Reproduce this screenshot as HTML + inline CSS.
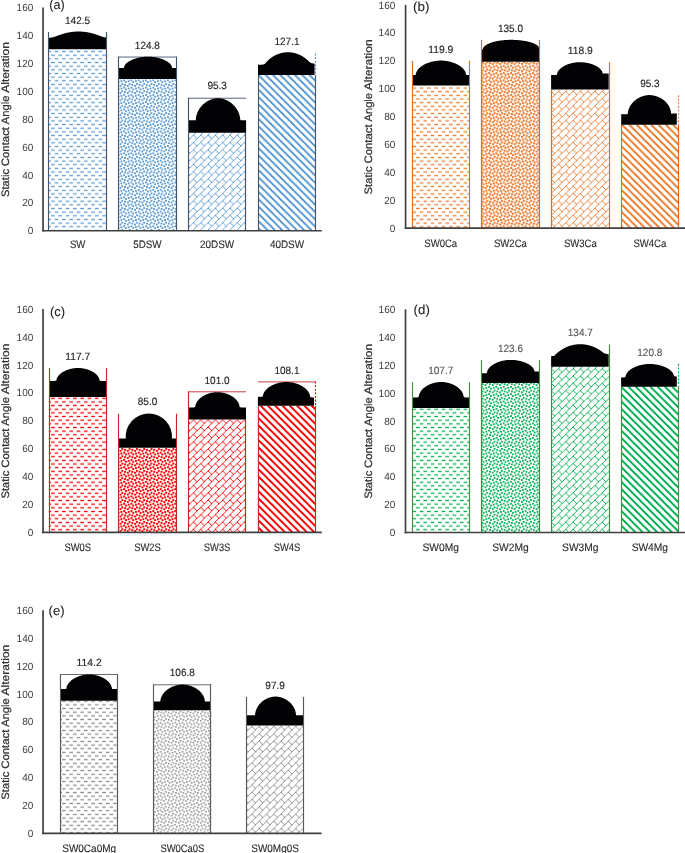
<!DOCTYPE html>
<html><head><meta charset="utf-8"><style>
html,body{margin:0;padding:0;background:#fff;}
svg{display:block;will-change:transform;}
text{font-family:"Liberation Sans", sans-serif;text-rendering:geometricPrecision;} .b{stroke:currentColor;stroke-width:0.2px;} .l{stroke:currentColor;stroke-width:0.08px;} .v{stroke:currentColor;stroke-width:0.12px;}
</style></head><body>
<svg width="685" height="853" viewBox="0 0 685 853">
<defs><pattern id="pa0" patternUnits="userSpaceOnUse" width="8" height="8" patternTransform="scale(0.9125)"><g fill="#5B9BD5"><rect x="4" y="-0.2" width="4" height="1.4"/><rect x="0" y="3.8" width="4" height="1.4"/><rect x="4" y="7.8" width="4" height="1.4"/></g></pattern><pattern id="pa1" patternUnits="userSpaceOnUse" width="8" height="8" patternTransform="scale(0.9125)"><g fill="#5B9BD5"><rect x="7" y="7" width="2.0" height="2.0"/><rect x="7" y="-1" width="2.0" height="2.0"/><rect x="-1" y="7" width="2.0" height="2.0"/><rect x="-1" y="-1" width="2.0" height="2.0"/><rect x="1" y="1" width="2.0" height="2.0"/><rect x="4" y="0" width="2.0" height="2.0"/><rect x="5" y="3" width="2.0" height="2.0"/><rect x="0" y="4" width="2.0" height="2.0"/><rect x="3" y="5" width="2.0" height="2.0"/></g></pattern><pattern id="pa2" patternUnits="userSpaceOnUse" width="8" height="8" patternTransform="scale(0.9125)"><g fill="#5B9BD5"><rect x="7" y="0" width="1" height="1"/><rect x="6" y="1" width="1" height="1"/><rect x="5" y="2" width="1" height="1"/><rect x="4" y="3" width="1" height="1"/><rect x="3" y="4" width="2" height="1"/><rect x="2" y="5" width="1" height="1"/><rect x="5" y="5" width="1" height="1"/><rect x="1" y="6" width="1" height="1"/><rect x="6" y="6" width="1" height="1"/><rect x="0" y="7" width="1" height="1"/><rect x="7" y="7" width="1" height="1"/></g></pattern><pattern id="pa3" patternUnits="userSpaceOnUse" width="8" height="8" patternTransform="scale(0.9125)"><g fill="#5B9BD5"><rect x="0" y="0" width="3" height="1"/><rect x="1" y="1" width="3" height="1"/><rect x="2" y="2" width="3" height="1"/><rect x="3" y="3" width="3" height="1"/><rect x="4" y="4" width="3" height="1"/><rect x="5" y="5" width="3" height="1"/><rect x="0" y="6" width="1" height="1"/><rect x="6" y="6" width="2" height="1"/><rect x="0" y="7" width="2" height="1"/><rect x="7" y="7" width="1" height="1"/></g></pattern><pattern id="pb0" patternUnits="userSpaceOnUse" width="8" height="8" patternTransform="scale(0.9125)"><g fill="#ED7D31"><rect x="4" y="-0.2" width="4" height="1.4"/><rect x="0" y="3.8" width="4" height="1.4"/><rect x="4" y="7.8" width="4" height="1.4"/></g></pattern><pattern id="pb1" patternUnits="userSpaceOnUse" width="8" height="8" patternTransform="scale(0.9125)"><g fill="#ED7D31"><rect x="7" y="7" width="2.2" height="2.2"/><rect x="7" y="-1" width="2.2" height="2.2"/><rect x="-1" y="7" width="2.2" height="2.2"/><rect x="-1" y="-1" width="2.2" height="2.2"/><rect x="1" y="1" width="2.2" height="2.2"/><rect x="4" y="0" width="2.2" height="2.2"/><rect x="5" y="3" width="2.2" height="2.2"/><rect x="0" y="4" width="2.2" height="2.2"/><rect x="3" y="5" width="2.2" height="2.2"/></g></pattern><pattern id="pb2" patternUnits="userSpaceOnUse" width="8" height="8" patternTransform="scale(0.9125)"><g fill="#ED7D31"><rect x="7" y="0" width="1" height="1"/><rect x="6" y="1" width="1" height="1"/><rect x="5" y="2" width="1" height="1"/><rect x="4" y="3" width="1" height="1"/><rect x="3" y="4" width="2" height="1"/><rect x="2" y="5" width="1" height="1"/><rect x="5" y="5" width="1" height="1"/><rect x="1" y="6" width="1" height="1"/><rect x="6" y="6" width="1" height="1"/><rect x="0" y="7" width="1" height="1"/><rect x="7" y="7" width="1" height="1"/></g></pattern><pattern id="pb3" patternUnits="userSpaceOnUse" width="8" height="8" patternTransform="scale(0.9125)"><g fill="#ED7D31"><rect x="0" y="0" width="3" height="1"/><rect x="1" y="1" width="3" height="1"/><rect x="2" y="2" width="3" height="1"/><rect x="3" y="3" width="3" height="1"/><rect x="4" y="4" width="3" height="1"/><rect x="5" y="5" width="3" height="1"/><rect x="0" y="6" width="1" height="1"/><rect x="6" y="6" width="2" height="1"/><rect x="0" y="7" width="2" height="1"/><rect x="7" y="7" width="1" height="1"/></g></pattern><pattern id="pc0" patternUnits="userSpaceOnUse" width="8" height="8" patternTransform="scale(0.9125)"><g fill="#FF0000"><rect x="4" y="-0.2" width="4" height="1.4"/><rect x="0" y="3.8" width="4" height="1.4"/><rect x="4" y="7.8" width="4" height="1.4"/></g></pattern><pattern id="pc1" patternUnits="userSpaceOnUse" width="8" height="8" patternTransform="scale(0.9125)"><g fill="#FF0000"><rect x="7" y="7" width="2.15" height="2.15"/><rect x="7" y="-1" width="2.15" height="2.15"/><rect x="-1" y="7" width="2.15" height="2.15"/><rect x="-1" y="-1" width="2.15" height="2.15"/><rect x="1" y="1" width="2.15" height="2.15"/><rect x="4" y="0" width="2.15" height="2.15"/><rect x="5" y="3" width="2.15" height="2.15"/><rect x="0" y="4" width="2.15" height="2.15"/><rect x="3" y="5" width="2.15" height="2.15"/></g></pattern><pattern id="pc2" patternUnits="userSpaceOnUse" width="8" height="8" patternTransform="scale(0.9125)"><g fill="#FF0000"><rect x="7" y="0" width="1" height="1"/><rect x="6" y="1" width="1" height="1"/><rect x="5" y="2" width="1" height="1"/><rect x="4" y="3" width="1" height="1"/><rect x="3" y="4" width="2" height="1"/><rect x="2" y="5" width="1" height="1"/><rect x="5" y="5" width="1" height="1"/><rect x="1" y="6" width="1" height="1"/><rect x="6" y="6" width="1" height="1"/><rect x="0" y="7" width="1" height="1"/><rect x="7" y="7" width="1" height="1"/></g></pattern><pattern id="pc3" patternUnits="userSpaceOnUse" width="8" height="8" patternTransform="scale(0.9125)"><g fill="#FF0000"><rect x="0" y="0" width="3" height="1"/><rect x="1" y="1" width="3" height="1"/><rect x="2" y="2" width="3" height="1"/><rect x="3" y="3" width="3" height="1"/><rect x="4" y="4" width="3" height="1"/><rect x="5" y="5" width="3" height="1"/><rect x="0" y="6" width="1" height="1"/><rect x="6" y="6" width="2" height="1"/><rect x="0" y="7" width="2" height="1"/><rect x="7" y="7" width="1" height="1"/></g></pattern><pattern id="pd0" patternUnits="userSpaceOnUse" width="8" height="8" patternTransform="scale(0.9125)"><g fill="#00B050"><rect x="4" y="-0.2" width="4" height="1.4"/><rect x="0" y="3.8" width="4" height="1.4"/><rect x="4" y="7.8" width="4" height="1.4"/></g></pattern><pattern id="pd1" patternUnits="userSpaceOnUse" width="8" height="8" patternTransform="scale(0.9125)"><g fill="#00B050"><rect x="7" y="7" width="1.95" height="1.95"/><rect x="7" y="-1" width="1.95" height="1.95"/><rect x="-1" y="7" width="1.95" height="1.95"/><rect x="-1" y="-1" width="1.95" height="1.95"/><rect x="1" y="1" width="1.95" height="1.95"/><rect x="4" y="0" width="1.95" height="1.95"/><rect x="5" y="3" width="1.95" height="1.95"/><rect x="0" y="4" width="1.95" height="1.95"/><rect x="3" y="5" width="1.95" height="1.95"/></g></pattern><pattern id="pd2" patternUnits="userSpaceOnUse" width="8" height="8" patternTransform="scale(0.9125)"><g fill="#00B050"><rect x="7" y="0" width="1" height="1"/><rect x="6" y="1" width="1" height="1"/><rect x="5" y="2" width="1" height="1"/><rect x="4" y="3" width="1" height="1"/><rect x="3" y="4" width="2" height="1"/><rect x="2" y="5" width="1" height="1"/><rect x="5" y="5" width="1" height="1"/><rect x="1" y="6" width="1" height="1"/><rect x="6" y="6" width="1" height="1"/><rect x="0" y="7" width="1" height="1"/><rect x="7" y="7" width="1" height="1"/></g></pattern><pattern id="pd3" patternUnits="userSpaceOnUse" width="8" height="8" patternTransform="scale(0.9125)"><g fill="#00B050"><rect x="0" y="0" width="3" height="1"/><rect x="1" y="1" width="3" height="1"/><rect x="2" y="2" width="3" height="1"/><rect x="3" y="3" width="3" height="1"/><rect x="4" y="4" width="3" height="1"/><rect x="5" y="5" width="3" height="1"/><rect x="0" y="6" width="1" height="1"/><rect x="6" y="6" width="2" height="1"/><rect x="0" y="7" width="2" height="1"/><rect x="7" y="7" width="1" height="1"/></g></pattern><pattern id="pe0" patternUnits="userSpaceOnUse" width="8" height="8" patternTransform="scale(0.9125)"><g fill="#8C8C8C"><rect x="4" y="-0.2" width="4" height="1.4"/><rect x="0" y="3.8" width="4" height="1.4"/><rect x="4" y="7.8" width="4" height="1.4"/></g></pattern><pattern id="pe1" patternUnits="userSpaceOnUse" width="8" height="8" patternTransform="scale(0.9125)"><g fill="#8C8C8C"><rect x="7" y="7" width="1.7" height="1.7"/><rect x="7" y="-1" width="1.7" height="1.7"/><rect x="-1" y="7" width="1.7" height="1.7"/><rect x="-1" y="-1" width="1.7" height="1.7"/><rect x="1" y="1" width="1.7" height="1.7"/><rect x="4" y="0" width="1.7" height="1.7"/><rect x="5" y="3" width="1.7" height="1.7"/><rect x="0" y="4" width="1.7" height="1.7"/><rect x="3" y="5" width="1.7" height="1.7"/></g></pattern><pattern id="pe2" patternUnits="userSpaceOnUse" width="8" height="8" patternTransform="scale(0.9125)"><g fill="#8C8C8C"><rect x="7" y="0" width="1" height="1"/><rect x="6" y="1" width="1" height="1"/><rect x="5" y="2" width="1" height="1"/><rect x="4" y="3" width="1" height="1"/><rect x="3" y="4" width="2" height="1"/><rect x="2" y="5" width="1" height="1"/><rect x="5" y="5" width="1" height="1"/><rect x="1" y="6" width="1" height="1"/><rect x="6" y="6" width="1" height="1"/><rect x="0" y="7" width="1" height="1"/><rect x="7" y="7" width="1" height="1"/></g></pattern><pattern id="pe3" patternUnits="userSpaceOnUse" width="8" height="8" patternTransform="scale(0.9125)"><g fill="#8C8C8C"><rect x="0" y="0" width="3" height="1"/><rect x="1" y="1" width="3" height="1"/><rect x="2" y="2" width="3" height="1"/><rect x="3" y="3" width="3" height="1"/><rect x="4" y="4" width="3" height="1"/><rect x="5" y="5" width="3" height="1"/><rect x="0" y="6" width="1" height="1"/><rect x="6" y="6" width="2" height="1"/><rect x="0" y="7" width="2" height="1"/><rect x="7" y="7" width="1" height="1"/></g></pattern></defs>
<rect width="685" height="853" fill="#fff"/>
<g><text x="33.3" y="234.35" text-anchor="end" font-size="10.4" fill="#404040" textLength="5.58" lengthAdjust="spacingAndGlyphs">0</text><text x="33.3" y="206.45" text-anchor="end" font-size="10.4" fill="#404040" textLength="11.15" lengthAdjust="spacingAndGlyphs">20</text><text x="33.3" y="178.55" text-anchor="end" font-size="10.4" fill="#404040" textLength="11.15" lengthAdjust="spacingAndGlyphs">40</text><text x="33.3" y="150.65" text-anchor="end" font-size="10.4" fill="#404040" textLength="11.15" lengthAdjust="spacingAndGlyphs">60</text><text x="33.3" y="122.75" text-anchor="end" font-size="10.4" fill="#404040" textLength="11.15" lengthAdjust="spacingAndGlyphs">80</text><text x="33.3" y="94.85" text-anchor="end" font-size="10.4" fill="#404040" textLength="16.73" lengthAdjust="spacingAndGlyphs">100</text><text x="33.3" y="66.95" text-anchor="end" font-size="10.4" fill="#404040" textLength="16.73" lengthAdjust="spacingAndGlyphs">120</text><text x="33.3" y="39.05" text-anchor="end" font-size="10.4" fill="#404040" textLength="16.73" lengthAdjust="spacingAndGlyphs">140</text><text x="33.3" y="11.15" text-anchor="end" font-size="10.4" fill="#404040" textLength="16.73" lengthAdjust="spacingAndGlyphs">160</text><text transform="translate(8.9,119.55) rotate(-90)" class="b" font-size="10.8" fill="#404040"><tspan x="-77.5" textLength="28.06" lengthAdjust="spacingAndGlyphs">Static</tspan><tspan x="-46.63" textLength="39.2" lengthAdjust="spacingAndGlyphs">Contact</tspan><tspan x="-4.62" textLength="28.59" lengthAdjust="spacingAndGlyphs">Angle</tspan><tspan x="26.77" textLength="50.73" lengthAdjust="spacingAndGlyphs">Alteration</tspan></text><text x="49.3" y="9.3" class="l" font-size="13" fill="#262626" textLength="15.4" lengthAdjust="spacingAndGlyphs">(a)</text><rect x="48.4" y="49.2" width="58.4" height="181.55" fill="url(#pa0)"/><path d="M49,49.2 L49,37.75 L49.25,37.73 L49.5,37.71 L49.75,37.69 L50,37.67 L50.24,37.65 L50.49,37.63 L50.74,37.6 L50.99,37.57 L51.24,37.54 L51.49,37.51 L51.74,37.47 L51.99,37.43 L52.24,37.39 L52.48,37.34 L52.73,37.29 L52.98,37.23 L53.23,37.17 L53.48,37.11 L53.73,37.04 L53.98,36.96 L54.23,36.89 L54.48,36.81 L54.72,36.72 L54.97,36.64 L55.22,36.55 L55.47,36.46 L55.72,36.37 L55.97,36.28 L56.22,36.19 L56.47,36.1 L56.72,36 L56.97,35.91 L57.21,35.82 L57.46,35.72 L57.71,35.63 L57.96,35.54 L58.21,35.44 L58.46,35.35 L58.71,35.26 L58.96,35.17 L59.21,35.08 L59.45,34.99 L59.7,34.9 L59.95,34.81 L60.2,34.73 L60.45,34.64 L60.7,34.56 L60.95,34.47 L61.2,34.39 L61.45,34.31 L61.69,34.23 L61.94,34.15 L62.19,34.07 L62.44,34 L62.69,33.92 L62.94,33.85 L63.19,33.77 L63.44,33.7 L63.69,33.63 L63.93,33.56 L64.18,33.49 L64.43,33.42 L64.68,33.36 L64.93,33.29 L65.18,33.23 L65.43,33.17 L65.68,33.1 L65.93,33.04 L66.17,32.99 L66.42,32.93 L66.67,32.87 L66.92,32.82 L67.17,32.76 L67.42,32.71 L67.67,32.66 L67.92,32.61 L68.17,32.56 L68.41,32.51 L68.66,32.46 L68.91,32.42 L69.16,32.37 L69.41,32.33 L69.66,32.28 L69.91,32.24 L70.16,32.2 L70.41,32.16 L70.66,32.13 L70.9,32.09 L71.15,32.06 L71.4,32.02 L71.65,31.99 L71.9,31.96 L72.15,31.93 L72.4,31.9 L72.65,31.87 L72.9,31.84 L73.14,31.82 L73.39,31.79 L73.64,31.77 L73.89,31.75 L74.14,31.73 L74.39,31.71 L74.64,31.69 L74.89,31.67 L75.14,31.65 L75.38,31.64 L75.63,31.62 L75.88,31.61 L76.13,31.6 L76.38,31.59 L76.63,31.58 L76.88,31.57 L77.13,31.57 L77.38,31.56 L77.62,31.55 L77.87,31.55 L78.12,31.55 L78.37,31.55 L78.62,31.55 L78.87,31.55 L79.12,31.55 L79.37,31.55 L79.62,31.56 L79.86,31.56 L80.11,31.57 L80.36,31.58 L80.61,31.59 L80.86,31.6 L81.11,31.61 L81.36,31.62 L81.61,31.64 L81.86,31.65 L82.1,31.67 L82.35,31.69 L82.6,31.71 L82.85,31.73 L83.1,31.75 L83.35,31.77 L83.6,31.79 L83.85,31.82 L84.1,31.84 L84.34,31.87 L84.59,31.9 L84.84,31.93 L85.09,31.96 L85.34,31.99 L85.59,32.02 L85.84,32.05 L86.09,32.09 L86.34,32.13 L86.59,32.16 L86.83,32.2 L87.08,32.24 L87.33,32.28 L87.58,32.33 L87.83,32.37 L88.08,32.41 L88.33,32.46 L88.58,32.51 L88.83,32.55 L89.07,32.6 L89.32,32.65 L89.57,32.71 L89.82,32.76 L90.07,32.81 L90.32,32.87 L90.57,32.93 L90.82,32.98 L91.07,33.04 L91.31,33.1 L91.56,33.16 L91.81,33.23 L92.06,33.29 L92.31,33.36 L92.56,33.42 L92.81,33.49 L93.06,33.56 L93.31,33.63 L93.55,33.7 L93.8,33.77 L94.05,33.84 L94.3,33.92 L94.55,33.99 L94.8,34.07 L95.05,34.15 L95.3,34.23 L95.55,34.31 L95.79,34.39 L96.04,34.47 L96.29,34.55 L96.54,34.64 L96.79,34.72 L97.04,34.81 L97.29,34.9 L97.54,34.99 L97.79,35.08 L98.03,35.17 L98.28,35.26 L98.53,35.35 L98.78,35.44 L99.03,35.53 L99.28,35.63 L99.53,35.72 L99.78,35.81 L100.03,35.91 L100.28,36 L100.52,36.09 L100.77,36.19 L101.02,36.28 L101.27,36.37 L101.52,36.46 L101.77,36.55 L102.02,36.64 L102.27,36.72 L102.52,36.8 L102.76,36.88 L103.01,36.96 L103.26,37.03 L103.51,37.1 L103.76,37.17 L104.01,37.23 L104.26,37.29 L104.51,37.34 L104.76,37.39 L105,37.43 L105.25,37.47 L105.5,37.51 L105.75,37.54 L106,37.57 L106,49.2 Z" fill="#020204"/><line x1="48.5" y1="31.96" x2="48.5" y2="230.75" stroke="#44546A" stroke-width="1.15"/><line x1="106.5" y1="31.96" x2="106.5" y2="230.75" stroke="#44546A" stroke-width="1.15"/><text x="77.6" y="23.5" class="v" text-anchor="middle" font-size="10.5" fill="#2a2a2a" color="#000" textLength="25.08" lengthAdjust="spacingAndGlyphs">142.5</text><text x="77.6" y="248.2" class="v" text-anchor="middle" font-size="10.8" fill="#333" textLength="15.45" lengthAdjust="spacingAndGlyphs">SW</text><rect x="118.2" y="79" width="58.4" height="151.75" fill="url(#pa1)"/><line x1="118.2" y1="57.05" x2="176.6" y2="57.05" stroke="#44546A" stroke-width="0.9"/><path d="M119,79 L119,67.99 L119.25,67.99 L119.5,67.99 L119.75,67.99 L120,67.99 L120.24,67.99 L120.49,67.99 L120.74,67.99 L120.99,67.99 L121.24,67.98 L121.49,67.98 L121.74,67.98 L121.99,67.98 L122.24,67.98 L122.48,67.97 L122.73,67.97 L122.98,67.96 L123.23,67.95 L123.48,67.92 L123.73,67.86 L123.98,67.56 L124.23,66.48 L124.48,65.88 L124.72,65.41 L124.97,65.01 L125.22,64.66 L125.47,64.34 L125.72,64.05 L125.97,63.78 L126.22,63.52 L126.47,63.28 L126.72,63.05 L126.97,62.84 L127.21,62.63 L127.46,62.44 L127.71,62.25 L127.96,62.07 L128.21,61.89 L128.46,61.72 L128.71,61.56 L128.96,61.4 L129.21,61.25 L129.45,61.1 L129.7,60.96 L129.95,60.82 L130.2,60.69 L130.45,60.56 L130.7,60.43 L130.95,60.31 L131.2,60.19 L131.45,60.07 L131.69,59.96 L131.94,59.85 L132.19,59.74 L132.44,59.63 L132.69,59.53 L132.94,59.43 L133.19,59.33 L133.44,59.24 L133.69,59.15 L133.93,59.05 L134.18,58.97 L134.43,58.88 L134.68,58.8 L134.93,58.71 L135.18,58.63 L135.43,58.56 L135.68,58.48 L135.93,58.41 L136.17,58.33 L136.42,58.26 L136.67,58.2 L136.92,58.13 L137.17,58.06 L137.42,58 L137.67,57.94 L137.92,57.88 L138.17,57.82 L138.41,57.76 L138.66,57.71 L138.91,57.65 L139.16,57.6 L139.41,57.55 L139.66,57.5 L139.91,57.45 L140.16,57.41 L140.41,57.36 L140.66,57.32 L140.9,57.28 L141.15,57.24 L141.4,57.2 L141.65,57.16 L141.9,57.13 L142.15,57.09 L142.4,57.06 L142.65,57.03 L142.9,57 L143.14,56.97 L143.39,56.94 L143.64,56.91 L143.89,56.89 L144.14,56.86 L144.39,56.84 L144.64,56.82 L144.89,56.8 L145.14,56.78 L145.38,56.77 L145.63,56.75 L145.88,56.74 L146.13,56.72 L146.38,56.71 L146.63,56.7 L146.88,56.7 L147.13,56.69 L147.38,56.68 L147.62,56.68 L147.87,56.68 L148.12,56.68 L148.37,56.68 L148.62,56.68 L148.87,56.69 L149.12,56.7 L149.37,56.7 L149.62,56.71 L149.86,56.72 L150.11,56.74 L150.36,56.75 L150.61,56.77 L150.86,56.78 L151.11,56.8 L151.36,56.82 L151.61,56.84 L151.86,56.86 L152.1,56.89 L152.35,56.91 L152.6,56.94 L152.85,56.97 L153.1,56.99 L153.35,57.03 L153.6,57.06 L153.85,57.09 L154.1,57.13 L154.34,57.16 L154.59,57.2 L154.84,57.24 L155.09,57.28 L155.34,57.32 L155.59,57.36 L155.84,57.41 L156.09,57.45 L156.34,57.5 L156.59,57.55 L156.83,57.6 L157.08,57.65 L157.33,57.71 L157.58,57.76 L157.83,57.82 L158.08,57.88 L158.33,57.94 L158.58,58 L158.83,58.06 L159.07,58.13 L159.32,58.19 L159.57,58.26 L159.82,58.33 L160.07,58.41 L160.32,58.48 L160.57,58.56 L160.82,58.63 L161.07,58.71 L161.31,58.79 L161.56,58.88 L161.81,58.96 L162.06,59.05 L162.31,59.14 L162.56,59.24 L162.81,59.33 L163.06,59.43 L163.31,59.53 L163.55,59.63 L163.8,59.74 L164.05,59.84 L164.3,59.96 L164.55,60.07 L164.8,60.19 L165.05,60.31 L165.3,60.43 L165.55,60.56 L165.79,60.69 L166.04,60.82 L166.29,60.96 L166.54,61.1 L166.79,61.25 L167.04,61.4 L167.29,61.56 L167.54,61.72 L167.79,61.89 L168.03,62.06 L168.28,62.24 L168.53,62.43 L168.78,62.63 L169.03,62.83 L169.28,63.05 L169.53,63.28 L169.78,63.52 L170.03,63.77 L170.28,64.04 L170.52,64.33 L170.77,64.65 L171.02,65.01 L171.27,65.4 L171.52,65.87 L171.77,66.46 L172.02,67.55 L172.27,67.86 L172.52,67.92 L172.76,67.95 L173.01,67.96 L173.26,67.97 L173.51,67.97 L173.76,67.98 L174.01,67.98 L174.26,67.98 L174.51,67.98 L174.76,67.98 L175,67.99 L175.25,67.99 L175.5,67.99 L175.75,67.99 L176,67.99 L176,79 Z" fill="#020204"/><line x1="118.5" y1="56.65" x2="118.5" y2="230.75" stroke="#44546A" stroke-width="1.15"/><line x1="176.5" y1="56.65" x2="176.5" y2="230.75" stroke="#44546A" stroke-width="1.15"/><text x="147.4" y="48.7" class="v" text-anchor="middle" font-size="10.5" fill="#2a2a2a" color="#000" textLength="25.08" lengthAdjust="spacingAndGlyphs">124.8</text><text x="147.4" y="248.2" class="v" text-anchor="middle" font-size="10.8" fill="#333" textLength="28.29" lengthAdjust="spacingAndGlyphs">5DSW</text><rect x="188.2" y="132.7" width="57.9" height="98.05" fill="url(#pa2)"/><line x1="245.5" y1="132.7" x2="245.5" y2="230.75" stroke="#44546A" stroke-width="1.15"/><line x1="188.2" y1="98.21" x2="246.1" y2="98.21" stroke="#44546A" stroke-width="0.9"/><path d="M189,132.7 L189,120.29 L189.25,120.29 L189.5,120.29 L189.75,120.29 L190,120.29 L190.25,120.29 L190.5,120.29 L190.75,120.29 L190.99,120.29 L191.24,120.29 L191.49,120.29 L191.74,120.29 L191.99,120.29 L192.24,120.29 L192.49,120.29 L192.74,120.29 L192.99,120.29 L193.24,120.28 L193.49,120.28 L193.74,120.28 L193.99,120.28 L194.24,120.27 L194.49,120.27 L194.73,120.26 L194.98,120.25 L195.23,120.23 L195.48,120.18 L195.73,119.96 L195.98,117.74 L196.23,116.36 L196.48,115.34 L196.73,114.48 L196.98,113.74 L197.23,113.07 L197.48,112.45 L197.73,111.89 L197.98,111.36 L198.23,110.87 L198.48,110.4 L198.72,109.95 L198.97,109.53 L199.22,109.13 L199.47,108.74 L199.72,108.37 L199.97,108.02 L200.22,107.67 L200.47,107.34 L200.72,107.02 L200.97,106.72 L201.22,106.42 L201.47,106.13 L201.72,105.85 L201.97,105.58 L202.22,105.32 L202.46,105.06 L202.71,104.81 L202.96,104.57 L203.21,104.34 L203.46,104.11 L203.71,103.89 L203.96,103.67 L204.21,103.46 L204.46,103.26 L204.71,103.06 L204.96,102.87 L205.21,102.68 L205.46,102.5 L205.71,102.32 L205.96,102.15 L206.2,101.98 L206.45,101.81 L206.7,101.66 L206.95,101.5 L207.2,101.35 L207.45,101.2 L207.7,101.06 L207.95,100.92 L208.2,100.79 L208.45,100.65 L208.7,100.53 L208.95,100.4 L209.2,100.28 L209.45,100.17 L209.7,100.05 L209.94,99.95 L210.19,99.84 L210.44,99.74 L210.69,99.64 L210.94,99.54 L211.19,99.45 L211.44,99.36 L211.69,99.28 L211.94,99.2 L212.19,99.12 L212.44,99.04 L212.69,98.97 L212.94,98.9 L213.19,98.83 L213.44,98.77 L213.69,98.71 L213.93,98.66 L214.18,98.6 L214.43,98.55 L214.68,98.5 L214.93,98.46 L215.18,98.42 L215.43,98.38 L215.68,98.35 L215.93,98.32 L216.18,98.29 L216.43,98.26 L216.68,98.24 L216.93,98.23 L217.18,98.21 L217.43,98.2 L217.67,98.19 L217.92,98.19 L218.17,98.19 L218.42,98.19 L218.67,98.2 L218.92,98.22 L219.17,98.23 L219.42,98.25 L219.67,98.27 L219.92,98.3 L220.17,98.33 L220.42,98.36 L220.67,98.4 L220.92,98.44 L221.17,98.48 L221.41,98.52 L221.66,98.57 L221.91,98.62 L222.16,98.68 L222.41,98.73 L222.66,98.8 L222.91,98.86 L223.16,98.93 L223.41,99 L223.66,99.07 L223.91,99.15 L224.16,99.23 L224.41,99.31 L224.66,99.4 L224.91,99.49 L225.16,99.58 L225.4,99.68 L225.65,99.78 L225.9,99.88 L226.15,99.99 L226.4,100.1 L226.65,100.21 L226.9,100.33 L227.15,100.45 L227.4,100.58 L227.65,100.7 L227.9,100.84 L228.15,100.97 L228.4,101.11 L228.65,101.26 L228.9,101.41 L229.14,101.56 L229.39,101.72 L229.64,101.88 L229.89,102.04 L230.14,102.21 L230.39,102.39 L230.64,102.57 L230.89,102.75 L231.14,102.94 L231.39,103.14 L231.64,103.34 L231.89,103.55 L232.14,103.76 L232.39,103.97 L232.64,104.2 L232.88,104.43 L233.13,104.67 L233.38,104.91 L233.63,105.16 L233.88,105.42 L234.13,105.68 L234.38,105.96 L234.63,106.24 L234.88,106.53 L235.13,106.84 L235.38,107.15 L235.63,107.47 L235.88,107.81 L236.13,108.15 L236.38,108.51 L236.62,108.89 L236.87,109.28 L237.12,109.69 L237.37,110.12 L237.62,110.58 L237.87,111.06 L238.12,111.56 L238.37,112.11 L238.62,112.69 L238.87,113.32 L239.12,114.02 L239.37,114.8 L239.62,115.71 L239.87,116.84 L240.12,118.51 L240.37,120.09 L240.61,120.2 L240.86,120.24 L241.11,120.25 L241.36,120.26 L241.61,120.27 L241.86,120.27 L242.11,120.28 L242.36,120.28 L242.61,120.28 L242.86,120.28 L243.11,120.29 L243.36,120.29 L243.61,120.29 L243.86,120.29 L244.11,120.29 L244.35,120.29 L244.6,120.29 L244.85,120.29 L245.1,120.29 L245.35,120.29 L245.6,120.29 L245.85,120.29 L246.1,120.29 L246.1,132.7 Z" fill="#020204"/><line x1="188.5" y1="97.81" x2="188.5" y2="230.75" stroke="#44546A" stroke-width="1.15"/><text x="217.15" y="89.2" class="v" text-anchor="middle" font-size="10.5" fill="#2a2a2a" color="#000" textLength="19.5" lengthAdjust="spacingAndGlyphs">95.3</text><text x="217.15" y="248.2" class="v" text-anchor="middle" font-size="10.8" fill="#333" textLength="34.1" lengthAdjust="spacingAndGlyphs">20DSW</text><rect x="258" y="75" width="58" height="155.75" fill="url(#pa3)"/><line x1="258.5" y1="75" x2="258.5" y2="230.75" stroke="#44546A" stroke-width="1.15"/><line x1="315.5" y1="75" x2="315.5" y2="230.75" stroke="#44546A" stroke-width="1.15"/><line x1="315.5" y1="53.45" x2="315.5" y2="75" stroke="#5B9BD5" stroke-width="1.15" stroke-dasharray="2 1.6"/><path d="M258,75 L258,64.85 L258.25,64.84 L258.5,64.84 L258.75,64.83 L259,64.83 L259.25,64.82 L259.5,64.81 L259.75,64.8 L259.99,64.79 L260.24,64.78 L260.49,64.77 L260.74,64.76 L260.99,64.74 L261.24,64.73 L261.49,64.71 L261.74,64.69 L261.99,64.67 L262.24,64.64 L262.49,64.61 L262.74,64.58 L262.99,64.54 L263.24,64.49 L263.49,64.44 L263.73,64.37 L263.98,64.29 L264.23,64.19 L264.48,64.07 L264.73,63.93 L264.98,63.76 L265.23,63.23 L265.48,62.99 L265.73,62.74 L265.98,62.49 L266.23,62.23 L266.48,61.97 L266.73,61.71 L266.98,61.46 L267.23,61.2 L267.47,60.95 L267.72,60.71 L267.97,60.47 L268.22,60.23 L268.47,60 L268.72,59.77 L268.97,59.55 L269.22,59.33 L269.47,59.11 L269.72,58.91 L269.97,58.7 L270.22,58.5 L270.47,58.3 L270.72,58.11 L270.97,57.92 L271.21,57.74 L271.46,57.56 L271.71,57.38 L271.96,57.21 L272.21,57.04 L272.46,56.88 L272.71,56.72 L272.96,56.56 L273.21,56.41 L273.46,56.25 L273.71,56.11 L273.96,55.96 L274.21,55.82 L274.46,55.69 L274.71,55.55 L274.96,55.42 L275.2,55.3 L275.45,55.17 L275.7,55.05 L275.95,54.93 L276.2,54.82 L276.45,54.7 L276.7,54.59 L276.95,54.49 L277.2,54.38 L277.45,54.28 L277.7,54.18 L277.95,54.09 L278.2,54 L278.45,53.91 L278.7,53.82 L278.94,53.73 L279.19,53.65 L279.44,53.57 L279.69,53.49 L279.94,53.42 L280.19,53.35 L280.44,53.28 L280.69,53.21 L280.94,53.14 L281.19,53.08 L281.44,53.02 L281.69,52.96 L281.94,52.91 L282.19,52.86 L282.44,52.81 L282.68,52.76 L282.93,52.71 L283.18,52.67 L283.43,52.63 L283.68,52.59 L283.93,52.55 L284.18,52.52 L284.43,52.49 L284.68,52.46 L284.93,52.43 L285.18,52.41 L285.43,52.38 L285.68,52.36 L285.93,52.34 L286.18,52.33 L286.42,52.31 L286.67,52.3 L286.92,52.29 L287.17,52.29 L287.42,52.28 L287.67,52.28 L287.92,52.27 L288.17,52.27 L288.42,52.27 L288.67,52.28 L288.92,52.29 L289.17,52.3 L289.42,52.31 L289.67,52.32 L289.92,52.34 L290.16,52.36 L290.41,52.38 L290.66,52.41 L290.91,52.43 L291.16,52.46 L291.41,52.49 L291.66,52.53 L291.91,52.56 L292.16,52.6 L292.41,52.64 L292.66,52.68 L292.91,52.73 L293.16,52.77 L293.41,52.82 L293.66,52.87 L293.9,52.93 L294.15,52.98 L294.4,53.04 L294.65,53.1 L294.9,53.17 L295.15,53.23 L295.4,53.3 L295.65,53.37 L295.9,53.45 L296.15,53.52 L296.4,53.6 L296.65,53.68 L296.9,53.77 L297.15,53.85 L297.4,53.94 L297.64,54.03 L297.89,54.13 L298.14,54.22 L298.39,54.32 L298.64,54.42 L298.89,54.53 L299.14,54.64 L299.39,54.75 L299.64,54.86 L299.89,54.98 L300.14,55.1 L300.39,55.22 L300.64,55.35 L300.89,55.48 L301.14,55.61 L301.39,55.74 L301.63,55.88 L301.88,56.02 L302.13,56.17 L302.38,56.31 L302.63,56.47 L302.88,56.62 L303.13,56.78 L303.38,56.94 L303.63,57.11 L303.88,57.27 L304.13,57.45 L304.38,57.62 L304.63,57.8 L304.88,57.99 L305.13,58.18 L305.37,58.37 L305.62,58.56 L305.87,58.76 L306.12,58.97 L306.37,59.18 L306.62,59.39 L306.87,59.6 L307.12,59.82 L307.37,60.04 L307.62,60.27 L307.87,60.5 L308.12,60.73 L308.37,60.96 L308.62,61.2 L308.87,61.43 L309.11,61.66 L309.36,61.88 L309.61,62.1 L309.86,62.31 L310.11,62.5 L310.36,62.68 L310.61,62.84 L310.86,62.76 L311.11,62.91 L311.36,63.04 L311.61,63.15 L311.86,63.24 L312.11,63.31 L312.36,63.37 L312.61,63.42 L312.85,63.46 L313.1,63.5 L313.35,63.53 L313.6,63.56 L313.85,63.58 L314.1,63.6 L314.35,63.62 L314.6,63.64 L314.6,75 Z" fill="#020204"/><text x="287" y="44.9" class="v" text-anchor="middle" font-size="10.5" fill="#2a2a2a" color="#000" textLength="25.08" lengthAdjust="spacingAndGlyphs">127.1</text><text x="287" y="248.2" class="v" text-anchor="middle" font-size="10.8" fill="#333" textLength="34.1" lengthAdjust="spacingAndGlyphs">40DSW</text><line x1="43.05" y1="7.55" x2="43.05" y2="231.6" stroke="#404040" stroke-width="1.7"/><line x1="42.2" y1="230.75" x2="321.8" y2="230.75" stroke="#404040" stroke-width="1.7"/></g><g><text x="395.3" y="231.7" text-anchor="end" font-size="10.4" fill="#404040" textLength="5.58" lengthAdjust="spacingAndGlyphs">0</text><text x="395.3" y="203.8" text-anchor="end" font-size="10.4" fill="#404040" textLength="11.15" lengthAdjust="spacingAndGlyphs">20</text><text x="395.3" y="175.9" text-anchor="end" font-size="10.4" fill="#404040" textLength="11.15" lengthAdjust="spacingAndGlyphs">40</text><text x="395.3" y="148" text-anchor="end" font-size="10.4" fill="#404040" textLength="11.15" lengthAdjust="spacingAndGlyphs">60</text><text x="395.3" y="120.1" text-anchor="end" font-size="10.4" fill="#404040" textLength="11.15" lengthAdjust="spacingAndGlyphs">80</text><text x="395.3" y="92.2" text-anchor="end" font-size="10.4" fill="#404040" textLength="16.73" lengthAdjust="spacingAndGlyphs">100</text><text x="395.3" y="64.3" text-anchor="end" font-size="10.4" fill="#404040" textLength="16.73" lengthAdjust="spacingAndGlyphs">120</text><text x="395.3" y="36.4" text-anchor="end" font-size="10.4" fill="#404040" textLength="16.73" lengthAdjust="spacingAndGlyphs">140</text><text x="395.3" y="8.5" text-anchor="end" font-size="10.4" fill="#404040" textLength="16.73" lengthAdjust="spacingAndGlyphs">160</text><text transform="translate(371.9,116.9) rotate(-90)" class="b" font-size="10.8" fill="#404040"><tspan x="-77.5" textLength="28.06" lengthAdjust="spacingAndGlyphs">Static</tspan><tspan x="-46.63" textLength="39.2" lengthAdjust="spacingAndGlyphs">Contact</tspan><tspan x="-4.62" textLength="28.59" lengthAdjust="spacingAndGlyphs">Angle</tspan><tspan x="26.77" textLength="50.73" lengthAdjust="spacingAndGlyphs">Alteration</tspan></text><text x="413.1" y="10.5" class="l" font-size="13" fill="#262626" textLength="16.4" lengthAdjust="spacingAndGlyphs">(b)</text><rect x="412" y="85.5" width="57.5" height="142.6" fill="url(#pb0)"/><path d="M413,85.5 L413,74.99 L413.25,74.98 L413.5,74.98 L413.75,74.98 L414,74.98 L414.24,74.97 L414.49,74.97 L414.74,74.96 L414.99,74.95 L415.24,74.93 L415.49,74.87 L415.74,74.65 L415.99,73.32 L416.24,72.52 L416.48,71.91 L416.73,71.39 L416.98,70.94 L417.23,70.53 L417.48,70.16 L417.73,69.82 L417.98,69.49 L418.23,69.19 L418.48,68.9 L418.72,68.63 L418.97,68.37 L419.22,68.12 L419.47,67.89 L419.72,67.66 L419.97,67.44 L420.22,67.22 L420.47,67.02 L420.72,66.82 L420.96,66.63 L421.21,66.44 L421.46,66.26 L421.71,66.09 L421.96,65.92 L422.21,65.75 L422.46,65.59 L422.71,65.43 L422.96,65.28 L423.2,65.13 L423.45,64.99 L423.7,64.85 L423.95,64.71 L424.2,64.58 L424.45,64.44 L424.7,64.32 L424.95,64.19 L425.2,64.07 L425.44,63.95 L425.69,63.84 L425.94,63.72 L426.19,63.61 L426.44,63.51 L426.69,63.4 L426.94,63.3 L427.19,63.2 L427.44,63.1 L427.68,63 L427.93,62.91 L428.18,62.82 L428.43,62.73 L428.68,62.64 L428.93,62.56 L429.18,62.48 L429.43,62.4 L429.68,62.32 L429.92,62.24 L430.17,62.17 L430.42,62.09 L430.67,62.02 L430.92,61.95 L431.17,61.89 L431.42,61.82 L431.67,61.76 L431.92,61.7 L432.16,61.64 L432.41,61.58 L432.66,61.52 L432.91,61.47 L433.16,61.41 L433.41,61.36 L433.66,61.31 L433.91,61.26 L434.16,61.22 L434.4,61.17 L434.65,61.13 L434.9,61.09 L435.15,61.05 L435.4,61.01 L435.65,60.97 L435.9,60.94 L436.15,60.91 L436.4,60.87 L436.64,60.84 L436.89,60.82 L437.14,60.79 L437.39,60.76 L437.64,60.74 L437.89,60.72 L438.14,60.7 L438.39,60.68 L438.64,60.66 L438.88,60.65 L439.13,60.63 L439.38,60.62 L439.63,60.61 L439.88,60.6 L440.13,60.59 L440.38,60.59 L440.63,60.58 L440.88,60.58 L441.12,60.58 L441.37,60.59 L441.62,60.59 L441.87,60.6 L442.12,60.61 L442.37,60.62 L442.62,60.63 L442.87,60.64 L443.12,60.66 L443.36,60.67 L443.61,60.69 L443.86,60.71 L444.11,60.74 L444.36,60.76 L444.61,60.78 L444.86,60.81 L445.11,60.84 L445.36,60.87 L445.6,60.9 L445.85,60.93 L446.1,60.97 L446.35,61 L446.6,61.04 L446.85,61.08 L447.1,61.12 L447.35,61.17 L447.6,61.21 L447.84,61.26 L448.09,61.3 L448.34,61.35 L448.59,61.4 L448.84,61.46 L449.09,61.51 L449.34,61.57 L449.59,61.62 L449.84,61.68 L450.08,61.75 L450.33,61.81 L450.58,61.87 L450.83,61.94 L451.08,62.01 L451.33,62.08 L451.58,62.15 L451.83,62.23 L452.08,62.3 L452.32,62.38 L452.57,62.46 L452.82,62.54 L453.07,62.63 L453.32,62.71 L453.57,62.8 L453.82,62.89 L454.07,62.99 L454.32,63.08 L454.56,63.18 L454.81,63.28 L455.06,63.38 L455.31,63.49 L455.56,63.59 L455.81,63.7 L456.06,63.81 L456.31,63.93 L456.56,64.05 L456.8,64.17 L457.05,64.29 L457.3,64.42 L457.55,64.55 L457.8,64.68 L458.05,64.82 L458.3,64.96 L458.55,65.1 L458.8,65.25 L459.04,65.4 L459.29,65.56 L459.54,65.72 L459.79,65.88 L460.04,66.05 L460.29,66.23 L460.54,66.41 L460.79,66.59 L461.04,66.78 L461.28,66.98 L461.53,67.18 L461.78,67.39 L462.03,67.61 L462.28,67.84 L462.53,68.08 L462.78,68.32 L463.03,68.58 L463.28,68.85 L463.52,69.13 L463.77,69.43 L464.02,69.75 L464.27,70.09 L464.52,70.46 L464.77,70.86 L465.02,71.3 L465.27,71.8 L465.52,72.39 L465.76,73.14 L466.01,74.54 L466.26,74.85 L466.51,74.92 L466.76,74.95 L467.01,74.96 L467.26,74.97 L467.51,74.97 L467.76,74.98 L468,74.98 L468.25,74.98 L468.5,74.98 L468.75,74.98 L469,74.99 L469,85.5 Z" fill="#020204"/><line x1="412.5" y1="60.84" x2="412.5" y2="228.1" stroke="#DA6B26" stroke-width="1.15"/><line x1="469.5" y1="60.84" x2="469.5" y2="228.1" stroke="#DA6B26" stroke-width="1.15"/><text x="440.75" y="52.7" class="v" text-anchor="middle" font-size="10.5" fill="#2a2a2a" color="#000" textLength="25.08" lengthAdjust="spacingAndGlyphs">119.9</text><text x="440.75" y="246.5" class="v" text-anchor="middle" font-size="10.8" fill="#333" textLength="32.84" lengthAdjust="spacingAndGlyphs">SW0Ca</text><rect x="481.4" y="61.8" width="58.1" height="166.3" fill="url(#pb1)"/><path d="M482,61.8 L482,49.69 L482.25,49.64 L482.5,49.53 L482.75,49.19 L483,48.27 L483.24,47.77 L483.49,47.38 L483.74,47.05 L483.99,46.76 L484.24,46.5 L484.49,46.26 L484.74,46.04 L484.99,45.83 L485.24,45.63 L485.48,45.45 L485.73,45.27 L485.98,45.1 L486.23,44.94 L486.48,44.79 L486.73,44.64 L486.98,44.5 L487.23,44.36 L487.48,44.23 L487.72,44.1 L487.97,43.98 L488.22,43.86 L488.47,43.74 L488.72,43.63 L488.97,43.52 L489.22,43.41 L489.47,43.31 L489.72,43.21 L489.97,43.11 L490.21,43.02 L490.46,42.92 L490.71,42.83 L490.96,42.74 L491.21,42.66 L491.46,42.57 L491.71,42.49 L491.96,42.41 L492.21,42.33 L492.45,42.26 L492.7,42.18 L492.95,42.11 L493.2,42.04 L493.45,41.97 L493.7,41.9 L493.95,41.83 L494.2,41.77 L494.45,41.71 L494.69,41.64 L494.94,41.58 L495.19,41.52 L495.44,41.47 L495.69,41.41 L495.94,41.35 L496.19,41.3 L496.44,41.25 L496.69,41.19 L496.93,41.14 L497.18,41.09 L497.43,41.05 L497.68,41 L497.93,40.95 L498.18,40.91 L498.43,40.87 L498.68,40.82 L498.93,40.78 L499.17,40.74 L499.42,40.7 L499.67,40.66 L499.92,40.63 L500.17,40.59 L500.42,40.55 L500.67,40.52 L500.92,40.49 L501.17,40.45 L501.41,40.42 L501.66,40.39 L501.91,40.36 L502.16,40.33 L502.41,40.3 L502.66,40.28 L502.91,40.25 L503.16,40.22 L503.41,40.2 L503.66,40.18 L503.9,40.15 L504.15,40.13 L504.4,40.11 L504.65,40.09 L504.9,40.07 L505.15,40.05 L505.4,40.03 L505.65,40.02 L505.9,40 L506.14,39.99 L506.39,39.97 L506.64,39.96 L506.89,39.94 L507.14,39.93 L507.39,39.92 L507.64,39.91 L507.89,39.9 L508.14,39.89 L508.38,39.88 L508.63,39.88 L508.88,39.87 L509.13,39.86 L509.38,39.86 L509.63,39.85 L509.88,39.85 L510.13,39.85 L510.38,39.85 L510.62,39.84 L510.87,39.84 L511.12,39.84 L511.37,39.84 L511.62,39.84 L511.87,39.84 L512.12,39.84 L512.37,39.85 L512.62,39.85 L512.86,39.86 L513.11,39.86 L513.36,39.87 L513.61,39.88 L513.86,39.88 L514.11,39.89 L514.36,39.9 L514.61,39.91 L514.86,39.92 L515.1,39.93 L515.35,39.94 L515.6,39.96 L515.85,39.97 L516.1,39.98 L516.35,40 L516.6,40.02 L516.85,40.03 L517.1,40.05 L517.34,40.07 L517.59,40.08 L517.84,40.1 L518.09,40.12 L518.34,40.14 L518.59,40.17 L518.84,40.19 L519.09,40.21 L519.34,40.23 L519.59,40.26 L519.83,40.28 L520.08,40.31 L520.33,40.34 L520.58,40.36 L520.83,40.39 L521.08,40.42 L521.33,40.45 L521.58,40.48 L521.83,40.51 L522.07,40.55 L522.32,40.58 L522.57,40.62 L522.82,40.65 L523.07,40.69 L523.32,40.72 L523.57,40.76 L523.82,40.8 L524.07,40.84 L524.31,40.88 L524.56,40.92 L524.81,40.97 L525.06,41.01 L525.31,41.06 L525.56,41.1 L525.81,41.15 L526.06,41.2 L526.31,41.25 L526.55,41.3 L526.8,41.35 L527.05,41.4 L527.3,41.46 L527.55,41.51 L527.8,41.57 L528.05,41.63 L528.3,41.69 L528.55,41.75 L528.79,41.81 L529.04,41.87 L529.29,41.94 L529.54,42 L529.79,42.07 L530.04,42.14 L530.29,42.21 L530.54,42.29 L530.79,42.36 L531.03,42.44 L531.28,42.52 L531.53,42.6 L531.78,42.68 L532.03,42.77 L532.28,42.86 L532.53,42.95 L532.78,43.04 L533.03,43.13 L533.28,43.23 L533.52,43.33 L533.77,43.44 L534.02,43.54 L534.27,43.66 L534.52,43.77 L534.77,43.89 L535.02,44.01 L535.27,44.14 L535.52,44.27 L535.76,44.41 L536.01,44.56 L536.26,44.71 L536.51,44.87 L536.76,45.04 L537.01,45.22 L537.26,45.41 L537.51,45.61 L537.76,45.84 L538,46.08 L538.25,46.36 L538.5,46.68 L538.75,47.08 L539,47.85 L539,61.8 Z" fill="#020204"/><line x1="481.5" y1="39.78" x2="481.5" y2="228.1" stroke="#DA6B26" stroke-width="1.15"/><line x1="539.5" y1="39.78" x2="539.5" y2="228.1" stroke="#DA6B26" stroke-width="1.15"/><text x="510.45" y="31.6" class="v" text-anchor="middle" font-size="10.5" fill="#2a2a2a" color="#000" textLength="25.08" lengthAdjust="spacingAndGlyphs">135.0</text><text x="510.45" y="246.5" class="v" text-anchor="middle" font-size="10.8" fill="#333" textLength="32.84" lengthAdjust="spacingAndGlyphs">SW2Ca</text><rect x="551.1" y="89.6" width="58.4" height="138.5" fill="url(#pb2)"/><line x1="551.5" y1="89.6" x2="551.5" y2="228.1" stroke="#DA6B26" stroke-width="1.15"/><path d="M551.1,89.6 L551.1,74.99 L551.35,74.99 L551.6,74.99 L551.85,74.99 L552.1,74.99 L552.35,74.99 L552.6,74.99 L552.85,74.99 L553.09,74.99 L553.34,74.99 L553.59,74.99 L553.84,74.99 L554.09,74.99 L554.34,74.98 L554.59,74.98 L554.84,74.98 L555.09,74.98 L555.34,74.97 L555.59,74.97 L555.84,74.96 L556.09,74.95 L556.34,74.94 L556.59,74.9 L556.84,74.79 L557.08,73.84 L557.33,72.94 L557.58,72.31 L557.83,71.8 L558.08,71.36 L558.33,70.97 L558.58,70.61 L558.83,70.28 L559.08,69.97 L559.33,69.68 L559.58,69.41 L559.83,69.15 L560.08,68.9 L560.33,68.67 L560.58,68.44 L560.82,68.23 L561.07,68.02 L561.32,67.82 L561.57,67.63 L561.82,67.45 L562.07,67.27 L562.32,67.09 L562.57,66.93 L562.82,66.76 L563.07,66.61 L563.32,66.45 L563.57,66.31 L563.82,66.16 L564.07,66.02 L564.32,65.89 L564.56,65.75 L564.81,65.62 L565.06,65.5 L565.31,65.38 L565.56,65.26 L565.81,65.14 L566.06,65.03 L566.31,64.92 L566.56,64.81 L566.81,64.71 L567.06,64.61 L567.31,64.51 L567.56,64.41 L567.81,64.32 L568.06,64.23 L568.31,64.14 L568.55,64.05 L568.8,63.97 L569.05,63.89 L569.3,63.81 L569.55,63.73 L569.8,63.65 L570.05,63.58 L570.3,63.51 L570.55,63.44 L570.8,63.37 L571.05,63.31 L571.3,63.25 L571.55,63.18 L571.8,63.13 L572.05,63.07 L572.29,63.01 L572.54,62.96 L572.79,62.91 L573.04,62.86 L573.29,62.81 L573.54,62.76 L573.79,62.72 L574.04,62.68 L574.29,62.63 L574.54,62.6 L574.79,62.56 L575.04,62.52 L575.29,62.49 L575.54,62.46 L575.79,62.43 L576.04,62.4 L576.28,62.37 L576.53,62.34 L576.78,62.32 L577.03,62.3 L577.28,62.28 L577.53,62.26 L577.78,62.25 L578.03,62.23 L578.28,62.22 L578.53,62.21 L578.78,62.2 L579.03,62.19 L579.28,62.18 L579.53,62.18 L579.78,62.18 L580.02,62.18 L580.27,62.18 L580.52,62.19 L580.77,62.19 L581.02,62.2 L581.27,62.21 L581.52,62.23 L581.77,62.24 L582.02,62.25 L582.27,62.27 L582.52,62.29 L582.77,62.31 L583.02,62.33 L583.27,62.35 L583.52,62.38 L583.76,62.4 L584.01,62.43 L584.26,62.46 L584.51,62.49 L584.76,62.52 L585.01,62.55 L585.26,62.59 L585.51,62.63 L585.76,62.66 L586.01,62.7 L586.26,62.75 L586.51,62.79 L586.76,62.83 L587.01,62.88 L587.26,62.93 L587.51,62.98 L587.75,63.03 L588,63.08 L588.25,63.14 L588.5,63.19 L588.75,63.25 L589,63.31 L589.25,63.37 L589.5,63.44 L589.75,63.5 L590,63.57 L590.25,63.64 L590.5,63.71 L590.75,63.79 L591,63.86 L591.25,63.94 L591.49,64.02 L591.74,64.1 L591.99,64.18 L592.24,64.27 L592.49,64.36 L592.74,64.45 L592.99,64.54 L593.24,64.64 L593.49,64.73 L593.74,64.84 L593.99,64.94 L594.24,65.05 L594.49,65.15 L594.74,65.27 L594.99,65.38 L595.24,65.5 L595.48,65.62 L595.73,65.75 L595.98,65.88 L596.23,66.01 L596.48,66.15 L596.73,66.29 L596.98,66.43 L597.23,66.58 L597.48,66.74 L597.73,66.9 L597.98,67.06 L598.23,67.24 L598.48,67.41 L598.73,67.6 L598.98,67.79 L599.22,67.99 L599.47,68.2 L599.72,68.42 L599.97,68.66 L600.22,68.9 L600.47,69.16 L600.72,69.44 L600.97,69.74 L601.22,70.06 L601.47,70.42 L601.72,70.82 L601.97,71.29 L602.22,71.87 L602.47,72.78 L602.72,73.43 L602.96,73.51 L603.21,73.54 L603.46,73.56 L603.71,73.57 L603.96,73.57 L604.21,73.58 L604.46,73.58 L604.71,73.58 L604.96,73.58 L605.21,73.58 L605.46,73.59 L605.71,73.59 L605.96,73.59 L606.21,73.59 L606.46,73.59 L606.71,73.59 L606.95,73.59 L607.2,73.59 L607.45,73.59 L607.7,73.59 L607.95,73.59 L608.2,73.59 L608.45,73.59 L608.7,73.59 L608.7,89.6 Z" fill="#020204"/><line x1="609.5" y1="62.23" x2="609.5" y2="228.1" stroke="#DA6B26" stroke-width="1.15"/><text x="580.3" y="54.2" class="v" text-anchor="middle" font-size="10.5" fill="#2a2a2a" color="#000" textLength="25.08" lengthAdjust="spacingAndGlyphs">118.9</text><text x="580.3" y="246.5" class="v" text-anchor="middle" font-size="10.8" fill="#333" textLength="32.84" lengthAdjust="spacingAndGlyphs">SW3Ca</text><rect x="621.2" y="124.7" width="57.4" height="103.4" fill="url(#pb3)"/><line x1="621.5" y1="124.7" x2="621.5" y2="228.1" stroke="#DA6B26" stroke-width="1.15"/><line x1="678.5" y1="124.7" x2="678.5" y2="228.1" stroke="#DA6B26" stroke-width="1.15"/><line x1="678.5" y1="95.16" x2="678.5" y2="124.7" stroke="#ED7D31" stroke-width="1.15" stroke-dasharray="2 1.6"/><path d="M621.2,124.7 L621.2,114.19 L621.45,114.19 L621.7,114.19 L621.95,114.19 L622.2,114.19 L622.45,114.19 L622.7,114.19 L622.95,114.19 L623.19,114.19 L623.44,114.19 L623.69,114.19 L623.94,114.19 L624.19,114.19 L624.44,114.19 L624.69,114.19 L624.94,114.19 L625.19,114.18 L625.44,114.18 L625.69,114.18 L625.94,114.18 L626.19,114.17 L626.44,114.17 L626.69,114.16 L626.93,114.15 L627.18,114.13 L627.43,114.09 L627.68,113.94 L627.93,112.25 L628.18,110.94 L628.43,110 L628.68,109.23 L628.93,108.56 L629.18,107.96 L629.43,107.42 L629.68,106.92 L629.93,106.45 L630.18,106.01 L630.43,105.6 L630.67,105.21 L630.92,104.83 L631.17,104.48 L631.42,104.14 L631.67,103.81 L631.92,103.5 L632.17,103.2 L632.42,102.91 L632.67,102.63 L632.92,102.36 L633.17,102.1 L633.42,101.84 L633.67,101.6 L633.92,101.36 L634.17,101.13 L634.41,100.91 L634.66,100.69 L634.91,100.48 L635.16,100.28 L635.41,100.08 L635.66,99.89 L635.91,99.7 L636.16,99.52 L636.41,99.34 L636.66,99.17 L636.91,99 L637.16,98.84 L637.41,98.68 L637.66,98.52 L637.9,98.37 L638.15,98.23 L638.4,98.09 L638.65,97.95 L638.9,97.81 L639.15,97.68 L639.4,97.56 L639.65,97.43 L639.9,97.31 L640.15,97.2 L640.4,97.09 L640.65,96.98 L640.9,96.87 L641.15,96.77 L641.4,96.67 L641.64,96.57 L641.89,96.48 L642.14,96.39 L642.39,96.31 L642.64,96.22 L642.89,96.14 L643.14,96.06 L643.39,95.99 L643.64,95.92 L643.89,95.85 L644.14,95.78 L644.39,95.72 L644.64,95.66 L644.89,95.61 L645.14,95.55 L645.38,95.5 L645.63,95.45 L645.88,95.41 L646.13,95.37 L646.38,95.33 L646.63,95.29 L646.88,95.26 L647.13,95.23 L647.38,95.2 L647.63,95.17 L647.88,95.15 L648.13,95.13 L648.38,95.12 L648.63,95.1 L648.88,95.1 L649.12,95.09 L649.37,95.09 L649.62,95.09 L649.87,95.09 L650.12,95.1 L650.37,95.11 L650.62,95.13 L650.87,95.15 L651.12,95.17 L651.37,95.19 L651.62,95.21 L651.87,95.24 L652.12,95.28 L652.37,95.31 L652.62,95.35 L652.86,95.39 L653.11,95.43 L653.36,95.48 L653.61,95.52 L653.86,95.58 L654.11,95.63 L654.36,95.69 L654.61,95.75 L654.86,95.81 L655.11,95.87 L655.36,95.94 L655.61,96.01 L655.86,96.09 L656.11,96.16 L656.36,96.24 L656.6,96.33 L656.85,96.41 L657.1,96.5 L657.35,96.59 L657.6,96.69 L657.85,96.78 L658.1,96.89 L658.35,96.99 L658.6,97.1 L658.85,97.21 L659.1,97.32 L659.35,97.44 L659.6,97.56 L659.85,97.69 L660.1,97.81 L660.34,97.95 L660.59,98.08 L660.84,98.22 L661.09,98.37 L661.34,98.51 L661.59,98.67 L661.84,98.82 L662.09,98.98 L662.34,99.15 L662.59,99.32 L662.84,99.49 L663.09,99.67 L663.34,99.86 L663.59,100.05 L663.83,100.24 L664.08,100.44 L664.33,100.65 L664.58,100.86 L664.83,101.08 L665.08,101.31 L665.33,101.55 L665.58,101.79 L665.83,102.04 L666.08,102.3 L666.33,102.56 L666.58,102.84 L666.83,103.13 L667.08,103.43 L667.33,103.74 L667.57,104.06 L667.82,104.4 L668.07,104.76 L668.32,105.13 L668.57,105.53 L668.82,105.94 L669.07,106.39 L669.32,106.86 L669.57,107.38 L669.82,107.94 L670.07,108.57 L670.32,109.29 L670.57,110.15 L670.82,111.29 L671.07,113.16 L671.31,113.38 L671.56,113.43 L671.81,113.45 L672.06,113.46 L672.31,113.47 L672.56,113.47 L672.81,113.48 L673.06,113.48 L673.31,113.48 L673.56,113.48 L673.81,113.49 L674.06,113.49 L674.31,113.49 L674.56,113.49 L674.81,113.49 L675.05,113.49 L675.3,113.49 L675.55,113.49 L675.8,113.49 L676.05,113.49 L676.3,113.49 L676.55,113.49 L676.8,113.49 L676.8,124.7 Z" fill="#020204"/><text x="649.9" y="87.2" class="v" text-anchor="middle" font-size="10.5" fill="#2a2a2a" color="#000" textLength="19.5" lengthAdjust="spacingAndGlyphs">95.3</text><text x="649.9" y="246.5" class="v" text-anchor="middle" font-size="10.8" fill="#333" textLength="32.84" lengthAdjust="spacingAndGlyphs">SW4Ca</text><line x1="405.6" y1="4.9" x2="405.6" y2="228.95" stroke="#404040" stroke-width="1.7"/><line x1="404.75" y1="228.1" x2="685" y2="228.1" stroke="#404040" stroke-width="1.7"/></g><g><text x="33.3" y="535.9" text-anchor="end" font-size="10.4" fill="#404040" textLength="5.58" lengthAdjust="spacingAndGlyphs">0</text><text x="33.3" y="508" text-anchor="end" font-size="10.4" fill="#404040" textLength="11.15" lengthAdjust="spacingAndGlyphs">20</text><text x="33.3" y="480.1" text-anchor="end" font-size="10.4" fill="#404040" textLength="11.15" lengthAdjust="spacingAndGlyphs">40</text><text x="33.3" y="452.2" text-anchor="end" font-size="10.4" fill="#404040" textLength="11.15" lengthAdjust="spacingAndGlyphs">60</text><text x="33.3" y="424.3" text-anchor="end" font-size="10.4" fill="#404040" textLength="11.15" lengthAdjust="spacingAndGlyphs">80</text><text x="33.3" y="396.4" text-anchor="end" font-size="10.4" fill="#404040" textLength="16.73" lengthAdjust="spacingAndGlyphs">100</text><text x="33.3" y="368.5" text-anchor="end" font-size="10.4" fill="#404040" textLength="16.73" lengthAdjust="spacingAndGlyphs">120</text><text x="33.3" y="340.6" text-anchor="end" font-size="10.4" fill="#404040" textLength="16.73" lengthAdjust="spacingAndGlyphs">140</text><text x="33.3" y="312.7" text-anchor="end" font-size="10.4" fill="#404040" textLength="16.73" lengthAdjust="spacingAndGlyphs">160</text><text transform="translate(8.9,421.1) rotate(-90)" class="b" font-size="10.8" fill="#404040"><tspan x="-77.5" textLength="28.06" lengthAdjust="spacingAndGlyphs">Static</tspan><tspan x="-46.63" textLength="39.2" lengthAdjust="spacingAndGlyphs">Contact</tspan><tspan x="-4.62" textLength="28.59" lengthAdjust="spacingAndGlyphs">Angle</tspan><tspan x="26.77" textLength="50.73" lengthAdjust="spacingAndGlyphs">Alteration</tspan></text><text x="49.9" y="315.6" class="l" font-size="13" fill="#262626" textLength="15.2" lengthAdjust="spacingAndGlyphs">(c)</text><rect x="48.8" y="397" width="57.8" height="135.3" fill="url(#pc0)"/><path d="M50,397 L50,380.89 L50.25,380.89 L50.5,380.89 L50.75,380.89 L51,380.89 L51.24,380.89 L51.49,380.89 L51.74,380.89 L51.99,380.89 L52.24,380.89 L52.49,380.89 L52.74,380.89 L52.99,380.89 L53.24,380.89 L53.48,380.89 L53.73,380.88 L53.98,380.88 L54.23,380.88 L54.48,380.88 L54.73,380.88 L54.98,380.87 L55.23,380.86 L55.48,380.86 L55.72,380.84 L55.97,380.81 L56.22,380.7 L56.47,379.78 L56.72,378.82 L56.97,378.16 L57.22,377.62 L57.47,377.16 L57.72,376.75 L57.96,376.38 L58.21,376.04 L58.46,375.72 L58.71,375.42 L58.96,375.14 L59.21,374.87 L59.46,374.62 L59.71,374.38 L59.96,374.15 L60.2,373.92 L60.45,373.71 L60.7,373.51 L60.95,373.31 L61.2,373.12 L61.45,372.94 L61.7,372.76 L61.95,372.59 L62.2,372.42 L62.44,372.26 L62.69,372.1 L62.94,371.95 L63.19,371.8 L63.44,371.66 L63.69,371.52 L63.94,371.39 L64.19,371.26 L64.44,371.13 L64.68,371.01 L64.93,370.89 L65.18,370.77 L65.43,370.65 L65.68,370.54 L65.93,370.44 L66.18,370.33 L66.43,370.23 L66.68,370.13 L66.92,370.03 L67.17,369.94 L67.42,369.85 L67.67,369.76 L67.92,369.67 L68.17,369.59 L68.42,369.51 L68.67,369.43 L68.92,369.35 L69.16,369.28 L69.41,369.21 L69.66,369.14 L69.91,369.07 L70.16,369.01 L70.41,368.94 L70.66,368.88 L70.91,368.82 L71.16,368.77 L71.4,368.71 L71.65,368.66 L71.9,368.61 L72.15,368.56 L72.4,368.51 L72.65,368.47 L72.9,368.42 L73.15,368.38 L73.4,368.34 L73.64,368.31 L73.89,368.27 L74.14,368.24 L74.39,368.21 L74.64,368.18 L74.89,368.15 L75.14,368.13 L75.39,368.1 L75.64,368.08 L75.88,368.06 L76.13,368.05 L76.38,368.03 L76.63,368.02 L76.88,368.01 L77.13,368 L77.38,367.99 L77.63,367.98 L77.88,367.98 L78.12,367.98 L78.37,367.98 L78.62,367.99 L78.87,368 L79.12,368.01 L79.37,368.02 L79.62,368.03 L79.87,368.05 L80.12,368.06 L80.36,368.08 L80.61,368.1 L80.86,368.13 L81.11,368.15 L81.36,368.18 L81.61,368.21 L81.86,368.24 L82.11,368.27 L82.36,368.31 L82.6,368.34 L82.85,368.38 L83.1,368.42 L83.35,368.47 L83.6,368.51 L83.85,368.56 L84.1,368.61 L84.35,368.66 L84.6,368.71 L84.84,368.77 L85.09,368.82 L85.34,368.88 L85.59,368.94 L85.84,369.01 L86.09,369.07 L86.34,369.14 L86.59,369.21 L86.84,369.28 L87.08,369.35 L87.33,369.43 L87.58,369.51 L87.83,369.59 L88.08,369.67 L88.33,369.76 L88.58,369.85 L88.83,369.94 L89.08,370.03 L89.32,370.13 L89.57,370.23 L89.82,370.33 L90.07,370.44 L90.32,370.54 L90.57,370.65 L90.82,370.77 L91.07,370.89 L91.32,371.01 L91.56,371.13 L91.81,371.26 L92.06,371.39 L92.31,371.52 L92.56,371.66 L92.81,371.8 L93.06,371.95 L93.31,372.1 L93.56,372.26 L93.8,372.42 L94.05,372.59 L94.3,372.76 L94.55,372.94 L94.8,373.12 L95.05,373.31 L95.3,373.51 L95.55,373.71 L95.8,373.92 L96.04,374.15 L96.29,374.38 L96.54,374.62 L96.79,374.87 L97.04,375.14 L97.29,375.42 L97.54,375.72 L97.79,376.04 L98.04,376.38 L98.28,376.75 L98.53,377.16 L98.78,377.62 L99.03,378.16 L99.28,378.82 L99.53,379.78 L99.78,380.7 L100.03,380.81 L100.28,380.84 L100.52,380.86 L100.77,380.86 L101.02,380.87 L101.27,380.88 L101.52,380.88 L101.77,380.88 L102.02,380.88 L102.27,380.88 L102.52,380.89 L102.76,380.89 L103.01,380.89 L103.26,380.89 L103.51,380.89 L103.76,380.89 L104.01,380.89 L104.26,380.89 L104.51,380.89 L104.76,380.89 L105,380.89 L105.25,380.89 L105.5,380.89 L105.75,380.89 L106,380.89 L106,397 Z" fill="#020204"/><line x1="49.5" y1="368.11" x2="49.5" y2="532.3" stroke="#C62828" stroke-width="1.15"/><line x1="106.5" y1="368.11" x2="106.5" y2="532.3" stroke="#C62828" stroke-width="1.15"/><text x="77.7" y="359.8" class="v" text-anchor="middle" font-size="10.5" fill="#2a2a2a" color="#000" textLength="25.08" lengthAdjust="spacingAndGlyphs">117.7</text><text x="77.7" y="550.7" class="v" text-anchor="middle" font-size="10.8" fill="#333" textLength="26.51" lengthAdjust="spacingAndGlyphs">SW0S</text><rect x="118.4" y="447.8" width="58.2" height="84.5" fill="url(#pc1)"/><path d="M119,447.8 L119,438.5 L125.8,438.5 A23.13,23.13 0 1 1 171.9,438.5 L176,438.5 L176,447.8 Z" fill="#020204"/><line x1="118.5" y1="413.72" x2="118.5" y2="532.3" stroke="#C62828" stroke-width="1.15"/><line x1="176.5" y1="413.72" x2="176.5" y2="532.3" stroke="#C62828" stroke-width="1.15"/><text x="147.5" y="405.3" class="v" text-anchor="middle" font-size="10.5" fill="#2a2a2a" color="#000" textLength="19.5" lengthAdjust="spacingAndGlyphs">85.0</text><text x="147.5" y="550.7" class="v" text-anchor="middle" font-size="10.8" fill="#333" textLength="26.51" lengthAdjust="spacingAndGlyphs">SW2S</text><rect x="188.2" y="419.6" width="57.8" height="112.7" fill="url(#pc2)"/><line x1="245.5" y1="419.6" x2="245.5" y2="532.3" stroke="#C62828" stroke-width="1.15"/><line x1="188.2" y1="391.8" x2="246" y2="391.8" stroke="#C62828" stroke-width="0.9"/><path d="M189,419.6 L189,407.39 L189.25,407.39 L189.5,407.39 L189.75,407.39 L190,407.39 L190.24,407.39 L190.49,407.39 L190.74,407.39 L190.99,407.39 L191.24,407.39 L191.49,407.39 L191.74,407.39 L191.99,407.39 L192.24,407.39 L192.48,407.38 L192.73,407.38 L192.98,407.38 L193.23,407.38 L193.48,407.38 L193.73,407.37 L193.98,407.37 L194.23,407.36 L194.48,407.34 L194.72,407.31 L194.97,407.24 L195.22,406.54 L195.47,405.19 L195.72,404.38 L195.97,403.73 L196.22,403.18 L196.47,402.69 L196.72,402.25 L196.97,401.84 L197.21,401.46 L197.46,401.11 L197.71,400.78 L197.96,400.46 L198.21,400.17 L198.46,399.88 L198.71,399.61 L198.96,399.35 L199.21,399.1 L199.45,398.86 L199.7,398.62 L199.95,398.4 L200.2,398.18 L200.45,397.98 L200.7,397.77 L200.95,397.58 L201.2,397.39 L201.45,397.2 L201.69,397.03 L201.94,396.85 L202.19,396.68 L202.44,396.52 L202.69,396.36 L202.94,396.21 L203.19,396.06 L203.44,395.91 L203.69,395.77 L203.93,395.63 L204.18,395.49 L204.43,395.36 L204.68,395.23 L204.93,395.11 L205.18,394.99 L205.43,394.87 L205.68,394.76 L205.93,394.64 L206.17,394.54 L206.42,394.43 L206.67,394.33 L206.92,394.23 L207.17,394.13 L207.42,394.04 L207.67,393.94 L207.92,393.85 L208.17,393.77 L208.41,393.68 L208.66,393.6 L208.91,393.52 L209.16,393.45 L209.41,393.37 L209.66,393.3 L209.91,393.23 L210.16,393.16 L210.41,393.1 L210.66,393.04 L210.9,392.98 L211.15,392.92 L211.4,392.86 L211.65,392.81 L211.9,392.76 L212.15,392.71 L212.4,392.66 L212.65,392.62 L212.9,392.57 L213.14,392.53 L213.39,392.5 L213.64,392.46 L213.89,392.43 L214.14,392.39 L214.39,392.36 L214.64,392.34 L214.89,392.31 L215.14,392.29 L215.38,392.27 L215.63,392.25 L215.88,392.23 L216.13,392.22 L216.38,392.21 L216.63,392.2 L216.88,392.19 L217.13,392.19 L217.38,392.18 L217.62,392.18 L217.87,392.19 L218.12,392.2 L218.37,392.2 L218.62,392.22 L218.87,392.23 L219.12,392.25 L219.37,392.26 L219.62,392.28 L219.86,392.31 L220.11,392.33 L220.36,392.36 L220.61,392.39 L220.86,392.42 L221.11,392.45 L221.36,392.49 L221.61,392.53 L221.86,392.57 L222.1,392.61 L222.35,392.65 L222.6,392.7 L222.85,392.75 L223.1,392.8 L223.35,392.85 L223.6,392.91 L223.85,392.96 L224.1,393.02 L224.34,393.09 L224.59,393.15 L224.84,393.22 L225.09,393.29 L225.34,393.36 L225.59,393.43 L225.84,393.51 L226.09,393.59 L226.34,393.67 L226.59,393.75 L226.83,393.84 L227.08,393.93 L227.33,394.02 L227.58,394.11 L227.83,394.21 L228.08,394.31 L228.33,394.41 L228.58,394.51 L228.83,394.62 L229.07,394.73 L229.32,394.85 L229.57,394.96 L229.82,395.09 L230.07,395.21 L230.32,395.34 L230.57,395.47 L230.82,395.6 L231.07,395.74 L231.31,395.88 L231.56,396.03 L231.81,396.18 L232.06,396.33 L232.31,396.49 L232.56,396.65 L232.81,396.82 L233.06,396.99 L233.31,397.17 L233.55,397.35 L233.8,397.54 L234.05,397.73 L234.3,397.94 L234.55,398.14 L234.8,398.36 L235.05,398.58 L235.3,398.81 L235.55,399.05 L235.79,399.3 L236.04,399.56 L236.29,399.83 L236.54,400.11 L236.79,400.4 L237.04,400.72 L237.29,401.04 L237.54,401.39 L237.79,401.76 L238.03,402.16 L238.28,402.6 L238.53,403.08 L238.78,403.62 L239.03,404.24 L239.28,405.01 L239.53,406.16 L239.78,407.2 L240.03,407.31 L240.28,407.34 L240.52,407.36 L240.77,407.36 L241.02,407.37 L241.27,407.38 L241.52,407.38 L241.77,407.38 L242.02,407.38 L242.27,407.38 L242.52,407.39 L242.76,407.39 L243.01,407.39 L243.26,407.39 L243.51,407.39 L243.76,407.39 L244.01,407.39 L244.26,407.39 L244.51,407.39 L244.76,407.39 L245,407.39 L245.25,407.39 L245.5,407.39 L245.75,407.39 L246,407.39 L246,419.6 Z" fill="#020204"/><line x1="188.5" y1="391.4" x2="188.5" y2="532.3" stroke="#C62828" stroke-width="1.15"/><text x="217.1" y="383.7" class="v" text-anchor="middle" font-size="10.5" fill="#2a2a2a" color="#000" textLength="25.08" lengthAdjust="spacingAndGlyphs">101.0</text><text x="217.1" y="550.7" class="v" text-anchor="middle" font-size="10.8" fill="#333" textLength="26.51" lengthAdjust="spacingAndGlyphs">SW3S</text><rect x="257.9" y="405.8" width="58.1" height="126.5" fill="url(#pc3)"/><line x1="258.5" y1="405.8" x2="258.5" y2="532.3" stroke="#C62828" stroke-width="1.15"/><line x1="315.5" y1="405.8" x2="315.5" y2="532.3" stroke="#C62828" stroke-width="1.15"/><line x1="257.9" y1="381.9" x2="316" y2="381.9" stroke="#C62828" stroke-width="0.9"/><line x1="315.5" y1="381.5" x2="315.5" y2="405.8" stroke="#FF0000" stroke-width="1.15" stroke-dasharray="2 1.6"/><path d="M257.9,405.8 L257.9,396.79 L258.15,396.79 L258.4,396.79 L258.65,396.79 L258.9,396.79 L259.15,396.79 L259.4,396.79 L259.65,396.79 L259.89,396.79 L260.14,396.78 L260.39,396.78 L260.64,396.78 L260.89,396.78 L261.14,396.77 L261.39,396.77 L261.64,396.76 L261.89,396.75 L262.14,396.74 L262.39,396.7 L262.64,396.59 L262.89,395.52 L263.14,394.49 L263.39,393.78 L263.63,393.2 L263.88,392.69 L264.13,392.24 L264.38,391.84 L264.63,391.46 L264.88,391.11 L265.13,390.78 L265.38,390.47 L265.63,390.18 L265.88,389.9 L266.13,389.63 L266.38,389.38 L266.63,389.13 L266.88,388.9 L267.13,388.67 L267.37,388.45 L267.62,388.24 L267.87,388.04 L268.12,387.84 L268.37,387.65 L268.62,387.46 L268.87,387.28 L269.12,387.11 L269.37,386.94 L269.62,386.77 L269.87,386.61 L270.12,386.45 L270.37,386.3 L270.62,386.15 L270.87,386.01 L271.11,385.87 L271.36,385.73 L271.61,385.6 L271.86,385.47 L272.11,385.34 L272.36,385.22 L272.61,385.1 L272.86,384.98 L273.11,384.87 L273.36,384.76 L273.61,384.65 L273.86,384.54 L274.11,384.44 L274.36,384.34 L274.61,384.24 L274.85,384.14 L275.1,384.05 L275.35,383.96 L275.6,383.87 L275.85,383.78 L276.1,383.7 L276.35,383.62 L276.6,383.54 L276.85,383.46 L277.1,383.39 L277.35,383.31 L277.6,383.24 L277.85,383.17 L278.1,383.11 L278.35,383.04 L278.59,382.98 L278.84,382.92 L279.09,382.86 L279.34,382.8 L279.59,382.75 L279.84,382.7 L280.09,382.64 L280.34,382.6 L280.59,382.55 L280.84,382.5 L281.09,382.46 L281.34,382.42 L281.59,382.38 L281.84,382.34 L282.09,382.31 L282.33,382.27 L282.58,382.24 L282.83,382.21 L283.08,382.18 L283.33,382.15 L283.58,382.13 L283.83,382.11 L284.08,382.09 L284.33,382.07 L284.58,382.05 L284.83,382.03 L285.08,382.02 L285.33,382.01 L285.58,382 L285.83,381.99 L286.07,381.99 L286.32,381.98 L286.57,381.98 L286.82,381.99 L287.07,381.99 L287.32,382 L287.57,382.01 L287.82,382.02 L288.07,382.03 L288.32,382.05 L288.57,382.06 L288.82,382.08 L289.07,382.1 L289.32,382.13 L289.57,382.15 L289.81,382.18 L290.06,382.21 L290.31,382.24 L290.56,382.27 L290.81,382.3 L291.06,382.34 L291.31,382.38 L291.56,382.42 L291.81,382.46 L292.06,382.51 L292.31,382.55 L292.56,382.6 L292.81,382.65 L293.06,382.7 L293.31,382.76 L293.55,382.81 L293.8,382.87 L294.05,382.93 L294.3,382.99 L294.55,383.06 L294.8,383.13 L295.05,383.19 L295.3,383.26 L295.55,383.34 L295.8,383.41 L296.05,383.49 L296.3,383.57 L296.55,383.65 L296.8,383.73 L297.05,383.82 L297.29,383.91 L297.54,384 L297.79,384.09 L298.04,384.19 L298.29,384.29 L298.54,384.39 L298.79,384.49 L299.04,384.6 L299.29,384.71 L299.54,384.82 L299.79,384.94 L300.04,385.05 L300.29,385.18 L300.54,385.3 L300.79,385.43 L301.03,385.56 L301.28,385.69 L301.53,385.83 L301.78,385.97 L302.03,386.11 L302.28,386.26 L302.53,386.41 L302.78,386.57 L303.03,386.73 L303.28,386.9 L303.53,387.07 L303.78,387.24 L304.03,387.42 L304.28,387.61 L304.53,387.8 L304.77,387.99 L305.02,388.2 L305.27,388.41 L305.52,388.62 L305.77,388.85 L306.02,389.08 L306.27,389.32 L306.52,389.57 L306.77,389.83 L307.02,390.11 L307.27,390.39 L307.52,390.69 L307.77,391.01 L308.02,391.34 L308.27,391.69 L308.51,392.07 L308.76,392.48 L309.01,392.93 L309.26,393.43 L309.51,394 L309.76,394.68 L310.01,395.57 L310.26,397.05 L310.51,397.27 L310.76,397.33 L311.01,397.35 L311.26,397.36 L311.51,397.37 L311.76,397.37 L312.01,397.38 L312.25,397.38 L312.5,397.38 L312.75,397.38 L313,397.39 L313.25,397.39 L313.5,397.39 L313.75,397.39 L314,397.39 L314,405.8 Z" fill="#020204"/><text x="286.95" y="373.7" class="v" text-anchor="middle" font-size="10.5" fill="#2a2a2a" color="#000" textLength="25.08" lengthAdjust="spacingAndGlyphs">108.1</text><text x="286.95" y="550.7" class="v" text-anchor="middle" font-size="10.8" fill="#333" textLength="26.51" lengthAdjust="spacingAndGlyphs">SW4S</text><line x1="43.05" y1="309.1" x2="43.05" y2="533.15" stroke="#404040" stroke-width="1.7"/><line x1="42.2" y1="532.3" x2="321.8" y2="532.3" stroke="#404040" stroke-width="1.7"/></g><g><text x="395.3" y="536.1" text-anchor="end" font-size="10.4" fill="#404040" textLength="5.58" lengthAdjust="spacingAndGlyphs">0</text><text x="395.3" y="508.2" text-anchor="end" font-size="10.4" fill="#404040" textLength="11.15" lengthAdjust="spacingAndGlyphs">20</text><text x="395.3" y="480.3" text-anchor="end" font-size="10.4" fill="#404040" textLength="11.15" lengthAdjust="spacingAndGlyphs">40</text><text x="395.3" y="452.4" text-anchor="end" font-size="10.4" fill="#404040" textLength="11.15" lengthAdjust="spacingAndGlyphs">60</text><text x="395.3" y="424.5" text-anchor="end" font-size="10.4" fill="#404040" textLength="11.15" lengthAdjust="spacingAndGlyphs">80</text><text x="395.3" y="396.6" text-anchor="end" font-size="10.4" fill="#404040" textLength="16.73" lengthAdjust="spacingAndGlyphs">100</text><text x="395.3" y="368.7" text-anchor="end" font-size="10.4" fill="#404040" textLength="16.73" lengthAdjust="spacingAndGlyphs">120</text><text x="395.3" y="340.8" text-anchor="end" font-size="10.4" fill="#404040" textLength="16.73" lengthAdjust="spacingAndGlyphs">140</text><text x="395.3" y="312.9" text-anchor="end" font-size="10.4" fill="#404040" textLength="16.73" lengthAdjust="spacingAndGlyphs">160</text><text transform="translate(371.9,421.3) rotate(-90)" class="b" font-size="10.8" fill="#404040"><tspan x="-77.5" textLength="28.06" lengthAdjust="spacingAndGlyphs">Static</tspan><tspan x="-46.63" textLength="39.2" lengthAdjust="spacingAndGlyphs">Contact</tspan><tspan x="-4.62" textLength="28.59" lengthAdjust="spacingAndGlyphs">Angle</tspan><tspan x="26.77" textLength="50.73" lengthAdjust="spacingAndGlyphs">Alteration</tspan></text><text x="413.6" y="314" class="l" font-size="13" fill="#262626" textLength="16.2" lengthAdjust="spacingAndGlyphs">(d)</text><rect x="412" y="407.9" width="57.5" height="124.6" fill="url(#pd0)"/><path d="M413,407.9 L413,397.39 L413.25,397.39 L413.5,397.39 L413.75,397.39 L414,397.39 L414.24,397.39 L414.49,397.39 L414.74,397.39 L414.99,397.39 L415.24,397.39 L415.49,397.39 L415.74,397.39 L415.99,397.38 L416.24,397.38 L416.48,397.38 L416.73,397.38 L416.98,397.38 L417.23,397.37 L417.48,397.37 L417.73,397.36 L417.98,397.34 L418.23,397.31 L418.48,397.23 L418.72,396.52 L418.97,395.17 L419.22,394.36 L419.47,393.7 L419.72,393.15 L419.97,392.66 L420.22,392.21 L420.47,391.8 L420.72,391.42 L420.96,391.07 L421.21,390.73 L421.46,390.42 L421.71,390.12 L421.96,389.83 L422.21,389.56 L422.46,389.29 L422.71,389.04 L422.96,388.8 L423.2,388.56 L423.45,388.34 L423.7,388.12 L423.95,387.91 L424.2,387.71 L424.45,387.51 L424.7,387.32 L424.95,387.13 L425.2,386.95 L425.44,386.78 L425.69,386.61 L425.94,386.44 L426.19,386.28 L426.44,386.12 L426.69,385.97 L426.94,385.82 L427.19,385.68 L427.44,385.54 L427.68,385.4 L427.93,385.27 L428.18,385.14 L428.43,385.01 L428.68,384.89 L428.93,384.77 L429.18,384.65 L429.43,384.54 L429.68,384.43 L429.92,384.32 L430.17,384.22 L430.42,384.12 L430.67,384.02 L430.92,383.92 L431.17,383.83 L431.42,383.74 L431.67,383.65 L431.92,383.56 L432.16,383.48 L432.41,383.4 L432.66,383.32 L432.91,383.24 L433.16,383.17 L433.41,383.1 L433.66,383.03 L433.91,382.96 L434.16,382.9 L434.4,382.84 L434.65,382.78 L434.9,382.72 L435.15,382.66 L435.4,382.61 L435.65,382.56 L435.9,382.51 L436.15,382.46 L436.4,382.42 L436.64,382.38 L436.89,382.34 L437.14,382.3 L437.39,382.26 L437.64,382.23 L437.89,382.2 L438.14,382.17 L438.39,382.14 L438.64,382.11 L438.88,382.09 L439.13,382.07 L439.38,382.05 L439.63,382.04 L439.88,382.02 L440.13,382.01 L440.38,382 L440.63,381.99 L440.88,381.99 L441.12,381.98 L441.37,381.98 L441.62,381.99 L441.87,381.99 L442.12,382 L442.37,382.01 L442.62,382.03 L442.87,382.04 L443.12,382.06 L443.36,382.08 L443.61,382.1 L443.86,382.12 L444.11,382.15 L444.36,382.18 L444.61,382.21 L444.86,382.24 L445.11,382.28 L445.36,382.31 L445.6,382.35 L445.85,382.39 L446.1,382.44 L446.35,382.48 L446.6,382.53 L446.85,382.58 L447.1,382.63 L447.35,382.69 L447.6,382.74 L447.84,382.8 L448.09,382.86 L448.34,382.92 L448.59,382.99 L448.84,383.06 L449.09,383.13 L449.34,383.2 L449.59,383.27 L449.84,383.35 L450.08,383.43 L450.33,383.51 L450.58,383.6 L450.83,383.68 L451.08,383.77 L451.33,383.86 L451.58,383.96 L451.83,384.06 L452.08,384.16 L452.32,384.26 L452.57,384.37 L452.82,384.47 L453.07,384.59 L453.32,384.7 L453.57,384.82 L453.82,384.94 L454.07,385.06 L454.32,385.19 L454.56,385.32 L454.81,385.45 L455.06,385.59 L455.31,385.73 L455.56,385.88 L455.81,386.03 L456.06,386.18 L456.31,386.34 L456.56,386.5 L456.8,386.67 L457.05,386.84 L457.3,387.02 L457.55,387.2 L457.8,387.39 L458.05,387.59 L458.3,387.79 L458.55,387.99 L458.8,388.21 L459.04,388.43 L459.29,388.66 L459.54,388.89 L459.79,389.14 L460.04,389.4 L460.29,389.66 L460.54,389.94 L460.79,390.23 L461.04,390.54 L461.28,390.86 L461.53,391.21 L461.78,391.57 L462.03,391.96 L462.28,392.38 L462.53,392.84 L462.78,393.36 L463.03,393.95 L463.28,394.65 L463.52,395.59 L463.77,397.07 L464.02,397.28 L464.27,397.33 L464.52,397.35 L464.77,397.36 L465.02,397.37 L465.27,397.37 L465.52,397.38 L465.76,397.38 L466.01,397.38 L466.26,397.38 L466.51,397.39 L466.76,397.39 L467.01,397.39 L467.26,397.39 L467.51,397.39 L467.76,397.39 L468,397.39 L468.25,397.39 L468.5,397.39 L468.75,397.39 L469,397.39 L469,407.9 Z" fill="#020204"/><line x1="412.5" y1="382.26" x2="412.5" y2="532.5" stroke="#3f8f3f" stroke-width="1.15"/><line x1="469.5" y1="382.26" x2="469.5" y2="532.5" stroke="#3f8f3f" stroke-width="1.15"/><text x="440.75" y="374.2" class="v" text-anchor="middle" font-size="10.5" fill="#555555" color="#555555" textLength="25.08" lengthAdjust="spacingAndGlyphs">107.7</text><text x="440.75" y="550.6" class="v" text-anchor="middle" font-size="10.8" fill="#333" textLength="36.43" lengthAdjust="spacingAndGlyphs">SW0Mg</text><rect x="481.4" y="383" width="58.1" height="149.5" fill="url(#pd1)"/><path d="M482,383 L482,373.29 L482.25,373.29 L482.5,373.29 L482.75,373.29 L483,373.29 L483.24,373.29 L483.49,373.29 L483.74,373.29 L483.99,373.29 L484.24,373.28 L484.49,373.28 L484.74,373.28 L484.99,373.28 L485.24,373.28 L485.48,373.27 L485.73,373.26 L485.98,373.25 L486.23,373.24 L486.48,373.2 L486.73,373.1 L486.98,372.15 L487.23,371.21 L487.48,370.57 L487.72,370.04 L487.97,369.59 L488.22,369.18 L488.47,368.81 L488.72,368.47 L488.97,368.15 L489.22,367.86 L489.47,367.58 L489.72,367.31 L489.97,367.06 L490.21,366.82 L490.46,366.59 L490.71,366.36 L490.96,366.15 L491.21,365.95 L491.46,365.75 L491.71,365.56 L491.96,365.37 L492.21,365.19 L492.45,365.02 L492.7,364.85 L492.95,364.69 L493.2,364.53 L493.45,364.38 L493.7,364.23 L493.95,364.08 L494.2,363.94 L494.45,363.8 L494.69,363.67 L494.94,363.54 L495.19,363.41 L495.44,363.29 L495.69,363.17 L495.94,363.05 L496.19,362.93 L496.44,362.82 L496.69,362.71 L496.93,362.61 L497.18,362.5 L497.43,362.4 L497.68,362.3 L497.93,362.21 L498.18,362.11 L498.43,362.02 L498.68,361.93 L498.93,361.85 L499.17,361.76 L499.42,361.68 L499.67,361.6 L499.92,361.52 L500.17,361.44 L500.42,361.37 L500.67,361.3 L500.92,361.23 L501.17,361.16 L501.41,361.09 L501.66,361.03 L501.91,360.97 L502.16,360.91 L502.41,360.85 L502.66,360.79 L502.91,360.74 L503.16,360.68 L503.41,360.63 L503.66,360.58 L503.9,360.53 L504.15,360.49 L504.4,360.44 L504.65,360.4 L504.9,360.36 L505.15,360.32 L505.4,360.28 L505.65,360.25 L505.9,360.21 L506.14,360.18 L506.39,360.15 L506.64,360.12 L506.89,360.09 L507.14,360.06 L507.39,360.04 L507.64,360.02 L507.89,360 L508.14,359.98 L508.38,359.96 L508.63,359.94 L508.88,359.93 L509.13,359.92 L509.38,359.91 L509.63,359.9 L509.88,359.89 L510.13,359.89 L510.38,359.88 L510.62,359.88 L510.87,359.88 L511.12,359.88 L511.37,359.89 L511.62,359.89 L511.87,359.9 L512.12,359.91 L512.37,359.92 L512.62,359.94 L512.86,359.95 L513.11,359.96 L513.36,359.98 L513.61,360 L513.86,360.02 L514.11,360.04 L514.36,360.06 L514.61,360.09 L514.86,360.11 L515.1,360.14 L515.35,360.17 L515.6,360.2 L515.85,360.23 L516.1,360.26 L516.35,360.3 L516.6,360.33 L516.85,360.37 L517.1,360.41 L517.34,360.45 L517.59,360.49 L517.84,360.54 L518.09,360.58 L518.34,360.63 L518.59,360.68 L518.84,360.72 L519.09,360.78 L519.34,360.83 L519.59,360.88 L519.83,360.94 L520.08,361 L520.33,361.06 L520.58,361.12 L520.83,361.18 L521.08,361.24 L521.33,361.31 L521.58,361.38 L521.83,361.45 L522.07,361.52 L522.32,361.59 L522.57,361.67 L522.82,361.75 L523.07,361.82 L523.32,361.91 L523.57,361.99 L523.82,362.08 L524.07,362.16 L524.31,362.25 L524.56,362.35 L524.81,362.44 L525.06,362.54 L525.31,362.64 L525.56,362.74 L525.81,362.85 L526.06,362.95 L526.31,363.06 L526.55,363.18 L526.8,363.29 L527.05,363.41 L527.3,363.54 L527.55,363.66 L527.8,363.79 L528.05,363.93 L528.3,364.06 L528.55,364.21 L528.79,364.35 L529.04,364.5 L529.29,364.66 L529.54,364.82 L529.79,364.99 L530.04,365.16 L530.29,365.34 L530.54,365.52 L530.79,365.72 L531.03,365.92 L531.28,366.13 L531.53,366.35 L531.78,366.58 L532.03,366.82 L532.28,367.08 L532.53,367.36 L532.78,367.66 L533.03,367.98 L533.28,368.34 L533.52,368.74 L533.77,369.21 L534.02,369.79 L534.27,370.71 L534.52,371.33 L534.77,371.41 L535.02,371.44 L535.27,371.46 L535.52,371.47 L535.76,371.47 L536.01,371.48 L536.26,371.48 L536.51,371.48 L536.76,371.48 L537.01,371.48 L537.26,371.49 L537.51,371.49 L537.76,371.49 L538,371.49 L538.25,371.49 L538.5,371.49 L538.75,371.49 L539,371.49 L539,383 Z" fill="#020204"/><line x1="481.5" y1="360.08" x2="481.5" y2="532.5" stroke="#3f8f3f" stroke-width="1.15"/><line x1="539.5" y1="360.08" x2="539.5" y2="532.5" stroke="#3f8f3f" stroke-width="1.15"/><text x="510.45" y="351.6" class="v" text-anchor="middle" font-size="10.5" fill="#555555" color="#555555" textLength="25.08" lengthAdjust="spacingAndGlyphs">123.6</text><text x="510.45" y="550.6" class="v" text-anchor="middle" font-size="10.8" fill="#333" textLength="36.43" lengthAdjust="spacingAndGlyphs">SW2Mg</text><rect x="551.1" y="366.7" width="58.4" height="165.8" fill="url(#pd2)"/><line x1="551.5" y1="366.7" x2="551.5" y2="532.5" stroke="#3f8f3f" stroke-width="1.15"/><path d="M551.1,366.7 L551.1,356.18 L551.35,356.16 L551.6,356.15 L551.85,356.13 L552.1,356.11 L552.35,356.09 L552.6,356.06 L552.85,356.03 L553.09,356 L553.34,355.96 L553.59,355.91 L553.84,355.85 L554.09,355.78 L554.34,355.7 L554.59,355.6 L554.84,355.48 L555.09,354.75 L555.34,354.55 L555.59,354.34 L555.84,354.13 L556.09,353.91 L556.34,353.7 L556.59,353.48 L556.84,353.27 L557.08,353.06 L557.33,352.85 L557.58,352.64 L557.83,352.44 L558.08,352.24 L558.33,352.04 L558.58,351.84 L558.83,351.65 L559.08,351.46 L559.33,351.27 L559.58,351.08 L559.83,350.9 L560.08,350.73 L560.33,350.55 L560.58,350.38 L560.82,350.21 L561.07,350.04 L561.32,349.88 L561.57,349.72 L561.82,349.56 L562.07,349.41 L562.32,349.25 L562.57,349.1 L562.82,348.96 L563.07,348.81 L563.32,348.67 L563.57,348.53 L563.82,348.4 L564.07,348.26 L564.32,348.13 L564.56,348.01 L564.81,347.88 L565.06,347.76 L565.31,347.64 L565.56,347.52 L565.81,347.4 L566.06,347.29 L566.31,347.18 L566.56,347.07 L566.81,346.96 L567.06,346.86 L567.31,346.75 L567.56,346.65 L567.81,346.56 L568.06,346.46 L568.31,346.37 L568.55,346.28 L568.8,346.19 L569.05,346.1 L569.3,346.02 L569.55,345.93 L569.8,345.85 L570.05,345.77 L570.3,345.7 L570.55,345.62 L570.8,345.55 L571.05,345.48 L571.3,345.41 L571.55,345.35 L571.8,345.28 L572.05,345.22 L572.29,345.16 L572.54,345.1 L572.79,345.04 L573.04,344.99 L573.29,344.94 L573.54,344.89 L573.79,344.84 L574.04,344.79 L574.29,344.75 L574.54,344.7 L574.79,344.66 L575.04,344.62 L575.29,344.58 L575.54,344.55 L575.79,344.51 L576.04,344.48 L576.28,344.45 L576.53,344.42 L576.78,344.4 L577.03,344.37 L577.28,344.35 L577.53,344.33 L577.78,344.31 L578.03,344.29 L578.28,344.28 L578.53,344.26 L578.78,344.25 L579.03,344.24 L579.28,344.23 L579.53,344.23 L579.78,344.22 L580.02,344.22 L580.27,344.22 L580.52,344.2 L580.77,344.21 L581.02,344.21 L581.27,344.22 L581.52,344.22 L581.77,344.23 L582.02,344.25 L582.27,344.26 L582.52,344.27 L582.77,344.29 L583.02,344.31 L583.27,344.33 L583.52,344.35 L583.76,344.38 L584.01,344.4 L584.26,344.43 L584.51,344.46 L584.76,344.49 L585.01,344.53 L585.26,344.56 L585.51,344.6 L585.76,344.64 L586.01,344.68 L586.26,344.72 L586.51,344.76 L586.76,344.81 L587.01,344.86 L587.26,344.91 L587.51,344.96 L587.75,345.01 L588,345.07 L588.25,345.13 L588.5,345.19 L588.75,345.25 L589,345.31 L589.25,345.38 L589.5,345.45 L589.75,345.52 L590,345.59 L590.25,345.66 L590.5,345.74 L590.75,345.82 L591,345.9 L591.25,345.98 L591.49,346.06 L591.74,346.15 L591.99,346.24 L592.24,346.33 L592.49,346.42 L592.74,346.51 L592.99,346.61 L593.24,346.71 L593.49,346.81 L593.74,346.91 L593.99,347.02 L594.24,347.13 L594.49,347.24 L594.74,347.35 L594.99,347.46 L595.24,347.58 L595.48,347.7 L595.73,347.82 L595.98,347.95 L596.23,348.07 L596.48,348.2 L596.73,348.33 L596.98,348.47 L597.23,348.6 L597.48,348.74 L597.73,348.88 L597.98,349.03 L598.23,349.17 L598.48,349.32 L598.73,349.47 L598.98,349.63 L599.22,349.79 L599.47,349.94 L599.72,350.11 L599.97,350.27 L600.22,350.44 L600.47,350.61 L600.72,350.78 L600.97,350.95 L601.22,351.13 L601.47,351.3 L601.72,351.48 L601.97,351.66 L602.22,351.85 L602.47,352.03 L602.72,352.21 L602.96,352.39 L603.21,352.57 L603.46,352.74 L603.71,352.91 L603.96,353.08 L604.21,353.23 L604.46,353.37 L604.71,353.51 L604.96,353.63 L605.21,353.73 L605.46,353.82 L605.71,353.56 L605.96,353.68 L606.21,353.78 L606.46,353.86 L606.71,353.94 L606.95,354 L607.2,354.05 L607.45,354.09 L607.7,354.13 L607.95,354.16 L608.2,354.18 L608.45,354.21 L608.7,354.23 L608.7,366.7 Z" fill="#020204"/><line x1="609.5" y1="344.59" x2="609.5" y2="532.5" stroke="#3f8f3f" stroke-width="1.15"/><text x="580.3" y="336.3" class="v" text-anchor="middle" font-size="10.5" fill="#555555" color="#555555" textLength="25.08" lengthAdjust="spacingAndGlyphs">134.7</text><text x="580.3" y="550.6" class="v" text-anchor="middle" font-size="10.8" fill="#333" textLength="36.43" lengthAdjust="spacingAndGlyphs">SW3Mg</text><rect x="621.1" y="386.7" width="57.5" height="145.8" fill="url(#pd3)"/><line x1="621.5" y1="386.7" x2="621.5" y2="532.5" stroke="#3f8f3f" stroke-width="1.15"/><line x1="678.5" y1="386.7" x2="678.5" y2="532.5" stroke="#3f8f3f" stroke-width="1.15"/><line x1="678.5" y1="363.98" x2="678.5" y2="386.7" stroke="#00B050" stroke-width="1.15" stroke-dasharray="2 1.6"/><path d="M621.1,386.7 L621.1,377.39 L621.35,377.39 L621.6,377.39 L621.85,377.39 L622.1,377.39 L622.35,377.39 L622.6,377.39 L622.85,377.38 L623.1,377.38 L623.35,377.38 L623.6,377.38 L623.85,377.37 L624.1,377.37 L624.35,377.36 L624.6,377.35 L624.85,377.33 L625.1,377.27 L625.35,377.04 L625.6,375.76 L625.85,375.01 L626.1,374.44 L626.35,373.95 L626.6,373.53 L626.84,373.14 L627.09,372.79 L627.34,372.47 L627.59,372.16 L627.84,371.88 L628.09,371.61 L628.34,371.35 L628.59,371.1 L628.84,370.87 L629.09,370.64 L629.34,370.43 L629.59,370.22 L629.84,370.02 L630.09,369.83 L630.34,369.64 L630.59,369.46 L630.84,369.28 L631.09,369.11 L631.34,368.95 L631.59,368.79 L631.84,368.63 L632.09,368.48 L632.34,368.34 L632.59,368.19 L632.84,368.05 L633.09,367.92 L633.34,367.79 L633.59,367.66 L633.84,367.53 L634.09,367.41 L634.34,367.29 L634.59,367.18 L634.84,367.06 L635.09,366.95 L635.34,366.84 L635.59,366.74 L635.84,366.64 L636.09,366.54 L636.34,366.44 L636.59,366.34 L636.84,366.25 L637.09,366.16 L637.34,366.07 L637.59,365.99 L637.83,365.9 L638.08,365.82 L638.33,365.74 L638.58,365.66 L638.83,365.59 L639.08,365.51 L639.33,365.44 L639.58,365.37 L639.83,365.3 L640.08,365.24 L640.33,365.17 L640.58,365.11 L640.83,365.05 L641.08,364.99 L641.33,364.93 L641.58,364.88 L641.83,364.83 L642.08,364.77 L642.33,364.72 L642.58,364.67 L642.83,364.63 L643.08,364.58 L643.33,364.54 L643.58,364.5 L643.83,364.46 L644.08,364.42 L644.33,364.38 L644.58,364.35 L644.83,364.31 L645.08,364.28 L645.33,364.25 L645.58,364.22 L645.83,364.19 L646.08,364.17 L646.33,364.14 L646.58,364.12 L646.83,364.1 L647.08,364.08 L647.33,364.06 L647.58,364.05 L647.83,364.03 L648.08,364.02 L648.33,364.01 L648.58,364 L648.83,363.99 L649.07,363.99 L649.32,363.98 L649.57,363.98 L649.82,363.98 L650.07,363.98 L650.32,363.99 L650.57,363.99 L650.82,364 L651.07,364.01 L651.32,364.02 L651.57,364.03 L651.82,364.05 L652.07,364.06 L652.32,364.08 L652.57,364.1 L652.82,364.12 L653.07,364.14 L653.32,364.16 L653.57,364.19 L653.82,364.21 L654.07,364.24 L654.32,364.27 L654.57,364.3 L654.82,364.33 L655.07,364.36 L655.32,364.4 L655.57,364.43 L655.82,364.47 L656.07,364.51 L656.32,364.55 L656.57,364.59 L656.82,364.64 L657.07,364.68 L657.32,364.73 L657.57,364.78 L657.82,364.83 L658.07,364.88 L658.32,364.94 L658.57,364.99 L658.82,365.05 L659.07,365.11 L659.32,365.17 L659.57,365.23 L659.82,365.29 L660.07,365.36 L660.31,365.42 L660.56,365.49 L660.81,365.56 L661.06,365.64 L661.31,365.71 L661.56,365.79 L661.81,365.87 L662.06,365.95 L662.31,366.03 L662.56,366.11 L662.81,366.2 L663.06,366.29 L663.31,366.38 L663.56,366.47 L663.81,366.57 L664.06,366.67 L664.31,366.77 L664.56,366.87 L664.81,366.98 L665.06,367.09 L665.31,367.2 L665.56,367.31 L665.81,367.43 L666.06,367.55 L666.31,367.67 L666.56,367.8 L666.81,367.93 L667.06,368.06 L667.31,368.2 L667.56,368.34 L667.81,368.49 L668.06,368.64 L668.31,368.79 L668.56,368.95 L668.81,369.11 L669.06,369.28 L669.31,369.46 L669.56,369.64 L669.81,369.83 L670.06,370.02 L670.31,370.22 L670.56,370.43 L670.81,370.66 L671.06,370.89 L671.3,371.13 L671.55,371.38 L671.8,371.66 L672.05,371.94 L672.3,372.25 L672.55,372.59 L672.8,372.96 L673.05,373.37 L673.3,373.84 L673.55,374.42 L673.8,375.23 L674.05,376.18 L674.3,376.3 L674.55,376.34 L674.8,376.35 L675.05,376.36 L675.3,376.37 L675.55,376.37 L675.8,376.38 L676.05,376.38 L676.3,376.38 L676.55,376.38 L676.8,376.39 L676.8,386.7 Z" fill="#020204"/><text x="649.85" y="355.7" class="v" text-anchor="middle" font-size="10.5" fill="#555555" color="#555555" textLength="25.08" lengthAdjust="spacingAndGlyphs">120.8</text><text x="649.85" y="550.6" class="v" text-anchor="middle" font-size="10.8" fill="#333" textLength="36.43" lengthAdjust="spacingAndGlyphs">SW4Mg</text><line x1="405.5" y1="309.3" x2="405.5" y2="533.35" stroke="#404040" stroke-width="1.7"/><line x1="404.65" y1="532.5" x2="685" y2="532.5" stroke="#404040" stroke-width="1.7"/></g><g><text x="33.3" y="837" text-anchor="end" font-size="10.4" fill="#404040" textLength="5.58" lengthAdjust="spacingAndGlyphs">0</text><text x="33.3" y="809.1" text-anchor="end" font-size="10.4" fill="#404040" textLength="11.15" lengthAdjust="spacingAndGlyphs">20</text><text x="33.3" y="781.2" text-anchor="end" font-size="10.4" fill="#404040" textLength="11.15" lengthAdjust="spacingAndGlyphs">40</text><text x="33.3" y="753.3" text-anchor="end" font-size="10.4" fill="#404040" textLength="11.15" lengthAdjust="spacingAndGlyphs">60</text><text x="33.3" y="725.4" text-anchor="end" font-size="10.4" fill="#404040" textLength="11.15" lengthAdjust="spacingAndGlyphs">80</text><text x="33.3" y="697.5" text-anchor="end" font-size="10.4" fill="#404040" textLength="16.73" lengthAdjust="spacingAndGlyphs">100</text><text x="33.3" y="669.6" text-anchor="end" font-size="10.4" fill="#404040" textLength="16.73" lengthAdjust="spacingAndGlyphs">120</text><text x="33.3" y="641.7" text-anchor="end" font-size="10.4" fill="#404040" textLength="16.73" lengthAdjust="spacingAndGlyphs">140</text><text x="33.3" y="613.8" text-anchor="end" font-size="10.4" fill="#404040" textLength="16.73" lengthAdjust="spacingAndGlyphs">160</text><text transform="translate(8.9,722.2) rotate(-90)" class="b" font-size="10.8" fill="#404040"><tspan x="-77.5" textLength="28.06" lengthAdjust="spacingAndGlyphs">Static</tspan><tspan x="-46.63" textLength="39.2" lengthAdjust="spacingAndGlyphs">Contact</tspan><tspan x="-4.62" textLength="28.59" lengthAdjust="spacingAndGlyphs">Angle</tspan><tspan x="26.77" textLength="50.73" lengthAdjust="spacingAndGlyphs">Alteration</tspan></text><text x="48.6" y="615.2" class="l" font-size="13" fill="#262626" textLength="16" lengthAdjust="spacingAndGlyphs">(e)</text><rect x="60.3" y="700.8" width="57.7" height="132.6" fill="url(#pe0)"/><line x1="60.3" y1="674.49" x2="118" y2="674.49" stroke="#595959" stroke-width="0.9"/><path d="M61,700.8 L61,689.09 L61.25,689.09 L61.5,689.09 L61.75,689.09 L62,689.09 L62.24,689.09 L62.49,689.09 L62.74,689.09 L62.99,689.09 L63.24,689.09 L63.49,689.09 L63.74,689.08 L63.99,689.08 L64.24,689.08 L64.48,689.08 L64.73,689.08 L64.98,689.07 L65.23,689.06 L65.48,689.06 L65.73,689.04 L65.98,689 L66.23,688.9 L66.48,687.88 L66.72,686.81 L66.97,686.09 L67.22,685.5 L67.47,684.99 L67.72,684.53 L67.97,684.12 L68.22,683.74 L68.47,683.39 L68.72,683.06 L68.96,682.75 L69.21,682.45 L69.46,682.17 L69.71,681.9 L69.96,681.65 L70.21,681.4 L70.46,681.17 L70.71,680.94 L70.96,680.72 L71.2,680.51 L71.45,680.3 L71.7,680.11 L71.95,679.91 L72.2,679.73 L72.45,679.55 L72.7,679.37 L72.95,679.21 L73.2,679.04 L73.44,678.88 L73.69,678.73 L73.94,678.57 L74.19,678.43 L74.44,678.28 L74.69,678.14 L74.94,678.01 L75.19,677.88 L75.44,677.75 L75.68,677.62 L75.93,677.5 L76.18,677.38 L76.43,677.27 L76.68,677.15 L76.93,677.04 L77.18,676.94 L77.43,676.83 L77.68,676.73 L77.92,676.63 L78.17,676.53 L78.42,676.44 L78.67,676.35 L78.92,676.26 L79.17,676.18 L79.42,676.09 L79.67,676.01 L79.92,675.93 L80.16,675.85 L80.41,675.78 L80.66,675.71 L80.91,675.64 L81.16,675.57 L81.41,675.5 L81.66,675.44 L81.91,675.38 L82.16,675.32 L82.4,675.26 L82.65,675.21 L82.9,675.16 L83.15,675.1 L83.4,675.06 L83.65,675.01 L83.9,674.96 L84.15,674.92 L84.4,674.88 L84.64,674.84 L84.89,674.8 L85.14,674.77 L85.39,674.74 L85.64,674.7 L85.89,674.68 L86.14,674.65 L86.39,674.62 L86.64,674.6 L86.88,674.58 L87.13,674.56 L87.38,674.54 L87.63,674.53 L87.88,674.51 L88.13,674.5 L88.38,674.5 L88.63,674.49 L88.88,674.48 L89.12,674.48 L89.37,674.48 L89.62,674.49 L89.87,674.49 L90.12,674.5 L90.37,674.51 L90.62,674.52 L90.87,674.54 L91.12,674.56 L91.36,674.57 L91.61,674.6 L91.86,674.62 L92.11,674.64 L92.36,674.67 L92.61,674.7 L92.86,674.73 L93.11,674.76 L93.36,674.8 L93.6,674.83 L93.85,674.87 L94.1,674.91 L94.35,674.95 L94.6,675 L94.85,675.05 L95.1,675.09 L95.35,675.14 L95.6,675.2 L95.84,675.25 L96.09,675.31 L96.34,675.37 L96.59,675.43 L96.84,675.49 L97.09,675.56 L97.34,675.62 L97.59,675.69 L97.84,675.77 L98.08,675.84 L98.33,675.92 L98.58,675.99 L98.83,676.08 L99.08,676.16 L99.33,676.24 L99.58,676.33 L99.83,676.42 L100.08,676.52 L100.32,676.61 L100.57,676.71 L100.82,676.81 L101.07,676.91 L101.32,677.02 L101.57,677.13 L101.82,677.24 L102.07,677.36 L102.32,677.48 L102.56,677.6 L102.81,677.72 L103.06,677.85 L103.31,677.98 L103.56,678.12 L103.81,678.25 L104.06,678.4 L104.31,678.54 L104.56,678.69 L104.8,678.85 L105.05,679.01 L105.3,679.17 L105.55,679.34 L105.8,679.51 L106.05,679.69 L106.3,679.88 L106.55,680.07 L106.8,680.26 L107.04,680.47 L107.29,680.68 L107.54,680.89 L107.79,681.12 L108.04,681.35 L108.29,681.6 L108.54,681.85 L108.79,682.12 L109.04,682.39 L109.28,682.69 L109.53,682.99 L109.78,683.32 L110.03,683.67 L110.28,684.04 L110.53,684.45 L110.78,684.89 L111.03,685.39 L111.28,685.96 L111.52,686.65 L111.77,687.6 L112.02,688.85 L112.27,688.99 L112.52,689.03 L112.77,689.05 L113.02,689.06 L113.27,689.07 L113.52,689.07 L113.76,689.08 L114.01,689.08 L114.26,689.08 L114.51,689.08 L114.76,689.09 L115.01,689.09 L115.26,689.09 L115.51,689.09 L115.76,689.09 L116,689.09 L116.25,689.09 L116.5,689.09 L116.75,689.09 L117,689.09 L117,700.8 Z" fill="#020204"/><line x1="60.5" y1="674.09" x2="60.5" y2="833.4" stroke="#595959" stroke-width="1.15"/><line x1="117.5" y1="674.09" x2="117.5" y2="833.4" stroke="#595959" stroke-width="1.15"/><text x="89.15" y="665.7" class="v" text-anchor="middle" font-size="10.5" fill="#2a2a2a" color="#000" textLength="25.08" lengthAdjust="spacingAndGlyphs">114.2</text><text x="89.15" y="851.6" class="v" text-anchor="middle" font-size="10.8" fill="#333" textLength="53.83" lengthAdjust="spacingAndGlyphs">SW0Ca0Mg</text><rect x="153.4" y="710.3" width="57.9" height="123.1" fill="url(#pe1)"/><line x1="153.4" y1="684.81" x2="211.3" y2="684.81" stroke="#595959" stroke-width="0.9"/><path d="M154,710.3 L154,701.49 L154.25,701.49 L154.5,701.49 L154.75,701.49 L155,701.49 L155.24,701.49 L155.49,701.49 L155.74,701.49 L155.99,701.49 L156.24,701.49 L156.49,701.49 L156.74,701.49 L156.99,701.49 L157.24,701.49 L157.48,701.49 L157.73,701.48 L157.98,701.48 L158.23,701.48 L158.48,701.48 L158.73,701.48 L158.98,701.47 L159.23,701.46 L159.48,701.46 L159.72,701.44 L159.97,701.41 L160.22,701.3 L160.47,700.16 L160.72,698.87 L160.97,698.01 L161.22,697.31 L161.47,696.71 L161.72,696.17 L161.96,695.69 L162.21,695.24 L162.46,694.83 L162.71,694.44 L162.96,694.08 L163.21,693.73 L163.46,693.4 L163.71,693.09 L163.96,692.79 L164.2,692.5 L164.45,692.22 L164.7,691.96 L164.95,691.7 L165.2,691.45 L165.45,691.21 L165.7,690.98 L165.95,690.76 L166.2,690.54 L166.44,690.33 L166.69,690.13 L166.94,689.93 L167.19,689.74 L167.44,689.55 L167.69,689.37 L167.94,689.2 L168.19,689.03 L168.44,688.86 L168.68,688.7 L168.93,688.54 L169.18,688.39 L169.43,688.24 L169.68,688.09 L169.93,687.95 L170.18,687.81 L170.43,687.68 L170.68,687.55 L170.92,687.42 L171.17,687.3 L171.42,687.18 L171.67,687.06 L171.92,686.95 L172.17,686.84 L172.42,686.73 L172.67,686.62 L172.92,686.52 L173.16,686.42 L173.41,686.33 L173.66,686.24 L173.91,686.15 L174.16,686.06 L174.41,685.97 L174.66,685.89 L174.91,685.81 L175.16,685.74 L175.4,685.66 L175.65,685.59 L175.9,685.52 L176.15,685.45 L176.4,685.39 L176.65,685.33 L176.9,685.27 L177.15,685.21 L177.4,685.16 L177.64,685.11 L177.89,685.06 L178.14,685.01 L178.39,684.97 L178.64,684.92 L178.89,684.88 L179.14,684.85 L179.39,684.81 L179.64,684.78 L179.88,684.75 L180.13,684.72 L180.38,684.7 L180.63,684.67 L180.88,684.65 L181.13,684.64 L181.38,684.62 L181.63,684.61 L181.88,684.6 L182.12,684.59 L182.37,684.59 L182.62,684.59 L182.87,684.59 L183.12,684.59 L183.37,684.6 L183.62,684.61 L183.87,684.62 L184.12,684.64 L184.36,684.66 L184.61,684.68 L184.86,684.7 L185.11,684.73 L185.36,684.76 L185.61,684.79 L185.86,684.82 L186.11,684.85 L186.36,684.89 L186.6,684.93 L186.85,684.97 L187.1,685.02 L187.35,685.07 L187.6,685.12 L187.85,685.17 L188.1,685.22 L188.35,685.28 L188.6,685.34 L188.84,685.4 L189.09,685.47 L189.34,685.53 L189.59,685.6 L189.84,685.67 L190.09,685.75 L190.34,685.83 L190.59,685.91 L190.84,685.99 L191.08,686.07 L191.33,686.16 L191.58,686.25 L191.83,686.35 L192.08,686.44 L192.33,686.54 L192.58,686.64 L192.83,686.75 L193.08,686.86 L193.32,686.97 L193.57,687.08 L193.82,687.2 L194.07,687.32 L194.32,687.44 L194.57,687.57 L194.82,687.7 L195.07,687.84 L195.32,687.98 L195.56,688.12 L195.81,688.26 L196.06,688.41 L196.31,688.57 L196.56,688.73 L196.81,688.89 L197.06,689.06 L197.31,689.23 L197.56,689.41 L197.8,689.59 L198.05,689.77 L198.3,689.97 L198.55,690.17 L198.8,690.37 L199.05,690.58 L199.3,690.8 L199.55,691.02 L199.8,691.26 L200.04,691.5 L200.29,691.75 L200.54,692 L200.79,692.27 L201.04,692.55 L201.29,692.84 L201.54,693.14 L201.79,693.46 L202.04,693.79 L202.28,694.14 L202.53,694.51 L202.78,694.9 L203.03,695.32 L203.28,695.77 L203.53,696.27 L203.78,696.81 L204.03,697.42 L204.28,698.14 L204.52,699.05 L204.77,700.55 L205.02,701.33 L205.27,701.41 L205.52,701.44 L205.77,701.46 L206.02,701.47 L206.27,701.47 L206.52,701.48 L206.76,701.48 L207.01,701.48 L207.26,701.48 L207.51,701.48 L207.76,701.49 L208.01,701.49 L208.26,701.49 L208.51,701.49 L208.76,701.49 L209,701.49 L209.25,701.49 L209.5,701.49 L209.75,701.49 L210,701.49 L210,710.3 Z" fill="#020204"/><line x1="153.5" y1="684.41" x2="153.5" y2="833.4" stroke="#595959" stroke-width="1.15"/><line x1="210.5" y1="684.41" x2="210.5" y2="833.4" stroke="#595959" stroke-width="1.15"/><text x="182.35" y="676.3" class="v" text-anchor="middle" font-size="10.5" fill="#2a2a2a" color="#000" textLength="25.08" lengthAdjust="spacingAndGlyphs">106.8</text><text x="182.35" y="851.6" class="v" text-anchor="middle" font-size="10.8" fill="#333" textLength="43.9" lengthAdjust="spacingAndGlyphs">SW0Ca0S</text><rect x="246.4" y="725.5" width="57.4" height="107.9" fill="url(#pe2)"/><path d="M247,725.5 L247,715.29 L247.25,715.29 L247.5,715.29 L247.75,715.29 L248,715.29 L248.24,715.29 L248.49,715.29 L248.74,715.29 L248.99,715.29 L249.24,715.29 L249.49,715.29 L249.74,715.29 L249.99,715.29 L250.24,715.29 L250.48,715.29 L250.73,715.29 L250.98,715.29 L251.23,715.29 L251.48,715.29 L251.73,715.29 L251.98,715.29 L252.23,715.29 L252.48,715.28 L252.72,715.28 L252.97,715.28 L253.22,715.28 L253.47,715.27 L253.72,715.27 L253.97,715.26 L254.22,715.25 L254.47,715.24 L254.72,715.2 L254.96,715.06 L255.21,713.46 L255.46,712.1 L255.71,711.14 L255.96,710.35 L256.21,709.67 L256.46,709.07 L256.71,708.52 L256.96,708.01 L257.2,707.54 L257.45,707.1 L257.7,706.69 L257.95,706.29 L258.2,705.92 L258.45,705.56 L258.7,705.22 L258.95,704.89 L259.2,704.58 L259.44,704.28 L259.69,703.99 L259.94,703.71 L260.19,703.44 L260.44,703.18 L260.69,702.93 L260.94,702.68 L261.19,702.45 L261.44,702.22 L261.68,702 L261.93,701.78 L262.18,701.58 L262.43,701.37 L262.68,701.18 L262.93,700.99 L263.18,700.8 L263.43,700.62 L263.68,700.45 L263.92,700.28 L264.17,700.12 L264.42,699.96 L264.67,699.8 L264.92,699.65 L265.17,699.5 L265.42,699.36 L265.67,699.23 L265.92,699.09 L266.16,698.96 L266.41,698.84 L266.66,698.72 L266.91,698.6 L267.16,698.48 L267.41,698.37 L267.66,698.27 L267.91,698.16 L268.16,698.06 L268.4,697.97 L268.65,697.87 L268.9,697.78 L269.15,697.7 L269.4,697.62 L269.65,697.54 L269.9,697.46 L270.15,697.39 L270.4,697.32 L270.64,697.25 L270.89,697.19 L271.14,697.13 L271.39,697.07 L271.64,697.02 L271.89,696.96 L272.14,696.92 L272.39,696.87 L272.64,696.83 L272.88,696.79 L273.13,696.76 L273.38,696.73 L273.63,696.7 L273.88,696.67 L274.13,696.65 L274.38,696.63 L274.63,696.61 L274.88,696.6 L275.12,696.59 L275.37,696.59 L275.62,696.59 L275.87,696.59 L276.12,696.6 L276.37,696.61 L276.62,696.62 L276.87,696.64 L277.12,696.66 L277.36,696.69 L277.61,696.71 L277.86,696.74 L278.11,696.78 L278.36,696.81 L278.61,696.85 L278.86,696.9 L279.11,696.94 L279.36,696.99 L279.6,697.05 L279.85,697.1 L280.1,697.16 L280.35,697.22 L280.6,697.29 L280.85,697.36 L281.1,697.43 L281.35,697.5 L281.6,697.58 L281.84,697.66 L282.09,697.75 L282.34,697.84 L282.59,697.93 L282.84,698.02 L283.09,698.12 L283.34,698.22 L283.59,698.33 L283.84,698.44 L284.08,698.55 L284.33,698.67 L284.58,698.79 L284.83,698.91 L285.08,699.04 L285.33,699.17 L285.58,699.3 L285.83,699.44 L286.08,699.59 L286.32,699.74 L286.57,699.89 L286.82,700.05 L287.07,700.21 L287.32,700.38 L287.57,700.55 L287.82,700.73 L288.07,700.91 L288.32,701.1 L288.56,701.29 L288.81,701.49 L289.06,701.7 L289.31,701.91 L289.56,702.13 L289.81,702.35 L290.06,702.58 L290.31,702.82 L290.56,703.07 L290.8,703.33 L291.05,703.6 L291.3,703.87 L291.55,704.16 L291.8,704.45 L292.05,704.76 L292.3,705.08 L292.55,705.42 L292.8,705.77 L293.04,706.13 L293.29,706.52 L293.54,706.92 L293.79,707.35 L294.04,707.81 L294.29,708.3 L294.54,708.83 L294.79,709.41 L295.04,710.06 L295.28,710.79 L295.53,711.67 L295.78,712.81 L296.03,714.88 L296.28,715.16 L296.53,715.22 L296.78,715.25 L297.03,715.26 L297.28,715.27 L297.52,715.27 L297.77,715.28 L298.02,715.28 L298.27,715.28 L298.52,715.28 L298.77,715.28 L299.02,715.29 L299.27,715.29 L299.52,715.29 L299.76,715.29 L300.01,715.29 L300.26,715.29 L300.51,715.29 L300.76,715.29 L301.01,715.29 L301.26,715.29 L301.51,715.29 L301.76,715.29 L302,715.29 L302.25,715.29 L302.5,715.29 L302.75,715.29 L303,715.29 L303,725.5 Z" fill="#020204"/><line x1="246.5" y1="696.83" x2="246.5" y2="833.4" stroke="#595959" stroke-width="1.15"/><line x1="303.5" y1="696.83" x2="303.5" y2="833.4" stroke="#595959" stroke-width="1.15"/><text x="275.1" y="688.6" class="v" text-anchor="middle" font-size="10.5" fill="#2a2a2a" color="#000" textLength="19.5" lengthAdjust="spacingAndGlyphs">97.9</text><text x="275.1" y="851.6" class="v" text-anchor="middle" font-size="10.8" fill="#333" textLength="47.49" lengthAdjust="spacingAndGlyphs">SW0Mg0S</text><line x1="43.05" y1="610.2" x2="43.05" y2="834.25" stroke="#404040" stroke-width="1.7"/><line x1="42.2" y1="833.4" x2="321.6" y2="833.4" stroke="#404040" stroke-width="1.7"/></g>
</svg>
</body></html>
